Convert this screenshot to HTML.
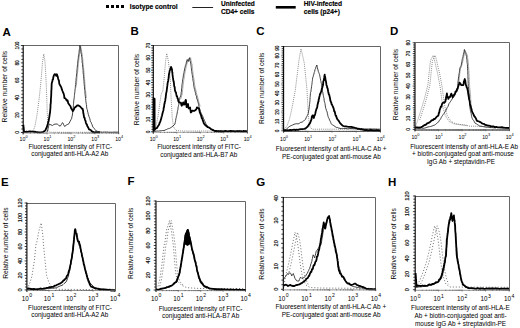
<!DOCTYPE html><html><head><meta charset="utf-8"><style>html,body{margin:0;padding:0;background:#fff;width:520px;height:328px;overflow:hidden}svg{display:block}text{font-family:"Liberation Sans",sans-serif}</style></head><body>
<svg width="520" height="328" viewBox="0 0 520 328">
<rect width="520" height="328" fill="#fff"/>
<rect x="106" y="5" width="3" height="3" fill="#000"/>
<rect x="111" y="5" width="3" height="3" fill="#000"/>
<rect x="116" y="5" width="3" height="3" fill="#000"/>
<rect x="121" y="5" width="3" height="3" fill="#000"/>
<text x="129.8" y="9.2" font-size="6.4" font-weight="700" text-anchor="start" fill="#000" textLength="47.9" lengthAdjust="spacingAndGlyphs" stroke="#000" stroke-width="0.15">Isotype control</text>
<line x1="192.3" y1="7.5" x2="213.1" y2="7.5" stroke="#222" stroke-width="1"/>
<text x="220.9" y="6.4" font-size="6.4" font-weight="700" text-anchor="start" fill="#000" textLength="33.9" lengthAdjust="spacingAndGlyphs" stroke="#000" stroke-width="0.15">Uninfected</text>
<text x="220.9" y="14.4" font-size="6.4" font-weight="700" text-anchor="start" fill="#000" textLength="33.5" lengthAdjust="spacingAndGlyphs" stroke="#000" stroke-width="0.15">CD4+ cells</text>
<rect x="275.8" y="6" width="19.9" height="2.6" fill="#000"/>
<text x="303.8" y="6.4" font-size="6.4" font-weight="700" text-anchor="start" fill="#000" textLength="38.3" lengthAdjust="spacingAndGlyphs" stroke="#000" stroke-width="0.15">HIV-infected</text>
<text x="303.8" y="14.4" font-size="6.4" font-weight="700" text-anchor="start" fill="#000" textLength="36.1" lengthAdjust="spacingAndGlyphs" stroke="#000" stroke-width="0.15">cells (p24+)</text>
<text x="2.6" y="35.5" font-size="11.5" font-weight="700" text-anchor="start" fill="#000">A</text>
<polyline points="23.5,45.5 118.5,45.5 118.5,134.0" fill="none" stroke="#666" stroke-width="1.0"/>
<polyline points="23.5,132.3 30.0,132.3 33.0,131.5 35.0,126.0 37.0,115.0 39.0,100.0 40.3,88.0 41.5,75.0 42.5,62.0 43.8,54.0 45.0,62.0 45.8,75.0 46.4,88.0 47.0,105.0 47.5,120.0 48.0,130.7 50.0,132.3 118.8,132.3" fill="none" stroke="#8a8a8a" stroke-width="1.0" stroke-dasharray="1 1.1"/>
<polyline points="76.1,87.4 76.2,86.2 76.3,85.5 76.5,84.4 76.6,82.9 76.7,81.5 76.8,79.9 76.9,78.9 77.1,77.2 77.2,76.5 77.3,75.3 77.4,73.6 77.5,72.0 77.7,71.7 77.8,70.3 77.9,69.3 78.0,67.8 78.2,66.3 78.3,65.4 78.4,63.7 78.5,62.5 78.7,61.4 78.8,59.7 79.0,58.3 79.1,57.8 79.3,56.6 79.5,54.8 79.7,53.9 79.8,52.0 80.0,50.9 80.2,50.1 80.4,48.2 80.5,46.8 80.7,46.1 80.9,47.4 81.2,48.3 81.4,49.2 81.6,51.2 81.8,52.9 82.1,53.8 82.3,54.7 82.4,56.4 82.5,57.5 82.7,59.1 82.8,59.4 82.9,61.2 83.0,62.8 83.2,64.1 83.3,64.8 83.4,66.8 83.5,67.2 83.7,68.7 83.8,70.2 83.9,71.2 84.0,72.6 84.1,73.1 84.2,74.3 84.3,76.2 84.4,76.8 84.5,78.7 84.6,79.1 84.7,81.3 84.8,81.7 84.9,83.4 85.0,84.7 85.1,85.8 85.2,86.7 85.3,88.2 85.4,89.8 85.5,90.6 85.7,92.2 85.8,92.7 85.9,93.9 86.0,95.1 86.2,96.9 86.3,98.0" fill="none" stroke="#999" stroke-width="0.85" stroke-linejoin="round"/>
<polyline points="47.0,132.3 47.4,131.0 47.8,129.8 48.1,128.3 48.5,126.9 48.9,125.3 49.2,124.0 51.0,124.9 52.6,125.5 53.8,124.5 55.0,124.1 57.2,124.0 58.7,125.3 60.2,126.2 61.5,124.3 62.5,122.6 63.1,123.3 63.7,124.8 64.8,126.6 66.3,124.9 67.8,124.4 69.0,123.6 70.1,121.3 70.9,119.8 71.7,118.3 71.9,116.9 72.1,116.3 72.4,115.0 72.6,113.1 72.8,111.9 72.9,110.4 73.0,109.6 73.1,108.5 73.3,107.0 73.4,105.3 73.5,104.5 73.6,103.3 73.7,101.2 73.9,100.1 74.0,99.1 74.2,97.9 74.3,96.8 74.4,95.6 74.6,94.1 74.7,93.1 74.9,91.7 75.0,90.0 75.2,88.8 75.3,87.7 75.4,86.6 75.5,85.1 75.7,84.6 75.8,82.4 75.9,80.9 76.0,80.6 76.1,78.5 76.3,77.4 76.4,76.3 76.5,74.9 76.6,73.8 76.8,72.7 76.9,71.0 77.0,69.4 77.1,68.8 77.2,67.5 77.4,66.0 77.5,64.5 77.6,63.5 77.8,62.0 77.9,60.8 78.0,59.8 78.2,59.0 78.3,57.4 78.5,55.9 78.7,55.0 78.9,53.8 79.0,52.8 79.2,51.0 79.4,49.2 79.6,48.8 79.7,47.5 79.9,45.4 80.1,46.9 80.4,48.7 80.6,49.5 80.8,50.6 81.0,52.7 81.3,54.1 81.5,54.4 81.6,56.7 81.8,57.3 81.9,58.5 82.0,59.4 82.1,60.7 82.2,62.9 82.4,63.3 82.5,64.7 82.6,66.1 82.8,67.7 82.9,68.9 83.0,69.8 83.1,70.7 83.2,72.9 83.3,74.0 83.4,74.3 83.5,75.8 83.6,76.7 83.7,78.5 83.8,79.8 83.9,80.2 84.0,81.4 84.1,83.6 84.2,84.2 84.3,85.1 84.4,86.2 84.5,87.8 84.6,89.5 84.8,90.3 84.9,91.3 85.0,93.3 85.1,94.5 85.2,95.2 85.4,96.7 85.5,98.1 85.7,98.7 85.8,100.6 86.0,102.2 86.2,103.1 86.3,104.4 86.5,104.8 86.6,106.9 86.8,108.2 87.1,109.4 87.4,110.2 87.7,112.0 87.9,112.4 88.2,114.2 88.5,114.7 88.9,116.4 89.3,117.2 89.8,118.6 90.2,120.5 90.6,121.8 91.1,122.3 91.6,123.8 92.0,124.5 92.5,126.1 93.0,127.2 94.0,128.2 94.9,129.4 95.9,130.7 97.3,131.3 98.6,131.5 100.0,132.0 101.3,132.1 102.5,132.2 103.8,132.1 105.0,132.1 106.3,132.1 107.5,132.0 108.8,132.3 110.0,132.2 111.3,132.3 112.5,132.3 113.8,132.1 115.0,132.1 116.3,132.2 117.5,132.1 118.8,132.3" fill="none" stroke="#222" stroke-width="0.85" stroke-linejoin="round"/>
<polyline points="23.4,124.9 23.5,126.8 23.6,128.0 23.8,129.0 23.9,130.4 24.0,131.9 25.2,131.8 26.4,131.6 27.6,131.9 28.8,131.5 30.0,131.4 31.2,131.6 32.4,131.5 33.6,131.8 34.8,131.7 36.0,132.1 37.3,132.1 38.7,132.4 40.0,132.3 41.6,132.1 43.3,131.8 45.0,130.7 45.6,130.0 46.1,128.5 46.7,127.6 47.3,125.6 47.6,124.6 47.9,123.9 48.2,121.9 48.5,121.8 48.8,120.1 49.0,118.9 49.2,117.7 49.4,116.6 49.5,115.6 49.7,114.3 49.9,113.3 50.1,111.8 50.3,109.3 50.4,108.5 50.5,107.3 50.5,105.2 50.6,104.2 50.7,103.9 50.8,102.7 50.9,100.9 50.9,99.7 51.0,98.3 51.1,96.7 51.2,96.2 51.2,94.2 51.3,93.5 51.3,91.2 51.4,90.0 51.5,89.3 51.5,88.0 51.6,86.6 51.6,85.5 51.7,83.6 52.0,82.3 52.3,81.6 52.6,79.7 53.0,79.7 53.3,77.3 53.6,76.3 53.9,75.4 54.6,74.1 55.4,74.3 55.8,75.0 56.3,75.9 56.9,74.3 57.4,75.7 57.8,76.9 58.2,79.0 58.7,80.1 59.0,80.9 59.2,83.1 59.5,84.3 60.4,85.8 61.3,87.4 61.9,89.4 62.5,91.0 63.6,93.6 63.9,94.6 64.1,95.1 64.4,98.2 65.5,98.3 66.7,100.6 67.5,100.3 67.8,101.1 68.2,103.2 69.0,104.3 69.7,105.3 70.5,106.3 71.0,108.0 71.5,108.7 72.0,109.6 72.8,111.1 73.4,110.2 74.1,109.0 74.7,107.5 75.5,107.1 76.2,106.5 77.0,105.5 78.5,105.5 80.1,106.5 81.0,107.5 82.0,108.8 82.5,108.6 83.1,110.8 83.3,113.1 83.5,113.5 83.7,114.8 84.1,117.3 84.6,117.9 85.0,119.8 85.5,120.8 85.9,122.7 86.3,123.9 86.8,124.2 87.3,126.1 87.9,127.0 88.5,128.2 89.0,129.3 90.0,129.7 91.0,130.3 91.9,131.3 92.9,132.0 94.3,132.3 95.7,132.1 97.2,132.4 98.6,132.3 100.0,132.5" fill="none" stroke="#000" stroke-width="1.8" stroke-linejoin="round"/>
<line x1="23.2" y1="45.0" x2="23.2" y2="134.3" stroke="#000" stroke-width="1.1"/>
<line x1="23.2" y1="133.1" x2="118.8" y2="133.1" stroke="#888" stroke-width="0.7"/>
<path d="M20.90 132.50H23.2M21.30 129.02H23.2M21.30 125.54H23.2M21.30 122.06H23.2M21.30 118.58H23.2M20.90 115.10H23.2M21.30 111.62H23.2M21.30 108.14H23.2M21.30 104.66H23.2M21.30 101.18H23.2M20.90 97.70H23.2M21.30 94.22H23.2M21.30 90.74H23.2M21.30 87.26H23.2M21.30 83.78H23.2M20.90 80.30H23.2M21.30 76.82H23.2M21.30 73.34H23.2M21.30 69.86H23.2M21.30 66.38H23.2M20.90 62.90H23.2M21.30 59.42H23.2M21.30 55.94H23.2M21.30 52.46H23.2M21.30 48.98H23.2M20.90 45.50H23.2" stroke="#000" stroke-width="0.75" fill="none"/>
<text transform="translate(18.5,132.5) rotate(-90)" font-size="4.8" font-weight="400" text-anchor="middle" fill="#000" stroke="#000" stroke-width="0.15">0</text>
<text transform="translate(18.5,115.1) rotate(-90)" font-size="4.8" font-weight="400" text-anchor="middle" fill="#000" stroke="#000" stroke-width="0.15">20</text>
<text transform="translate(18.5,97.7) rotate(-90)" font-size="4.8" font-weight="400" text-anchor="middle" fill="#000" stroke="#000" stroke-width="0.15">40</text>
<text transform="translate(18.5,80.3) rotate(-90)" font-size="4.8" font-weight="400" text-anchor="middle" fill="#000" stroke="#000" stroke-width="0.15">60</text>
<text transform="translate(18.5,62.9) rotate(-90)" font-size="4.8" font-weight="400" text-anchor="middle" fill="#000" stroke="#000" stroke-width="0.15">80</text>
<text transform="translate(18.5,45.5) rotate(-90)" font-size="4.8" font-weight="400" text-anchor="middle" fill="#000" stroke="#000" stroke-width="0.15">100</text>
<text transform="translate(7.25,86.7) rotate(-90)" font-size="6.7" font-weight="400" text-anchor="middle" fill="#000">Relative number of cells</text>
<path d="M23.20 132.5V134.3M30.39 132.5V133.6M34.60 132.5V133.6M37.59 132.5V133.6M39.91 132.5V133.6M41.80 132.5V133.6M43.40 132.5V133.6M44.78 132.5V133.6M46.01 132.5V133.6M47.10 132.5V134.3M54.29 132.5V133.6M58.50 132.5V133.6M61.49 132.5V133.6M63.81 132.5V133.6M65.70 132.5V133.6M67.30 132.5V133.6M68.68 132.5V133.6M69.91 132.5V133.6M71.00 132.5V134.3M78.19 132.5V133.6M82.40 132.5V133.6M85.39 132.5V133.6M87.71 132.5V133.6M89.60 132.5V133.6M91.20 132.5V133.6M92.58 132.5V133.6M93.81 132.5V133.6M94.90 132.5V134.3M102.09 132.5V133.6M106.30 132.5V133.6M109.29 132.5V133.6M111.61 132.5V133.6M113.50 132.5V133.6M115.10 132.5V133.6M116.48 132.5V133.6M117.71 132.5V133.6M118.8 132.5V134.3" stroke="#444" stroke-width="0.6" fill="none"/>
<text x="23.60" y="141.4" font-size="5.2" text-anchor="middle">10<tspan dx="0" dy="-3.0" font-size="3.9">0</tspan></text>
<text x="47.50" y="141.4" font-size="5.2" text-anchor="middle">10<tspan dx="0" dy="-3.0" font-size="3.9">1</tspan></text>
<text x="71.40" y="141.4" font-size="5.2" text-anchor="middle">10<tspan dx="0" dy="-3.0" font-size="3.9">2</tspan></text>
<text x="95.30" y="141.4" font-size="5.2" text-anchor="middle">10<tspan dx="0" dy="-3.0" font-size="3.9">3</tspan></text>
<text x="119.20" y="141.4" font-size="5.2" text-anchor="middle">10<tspan dx="0" dy="-3.0" font-size="3.9">4</tspan></text>
<text x="28.4" y="148.7" font-size="6.4" font-weight="400" text-anchor="start" fill="#000">Fluorescent intensity of FITC-</text>
<text x="31.25" y="156.3" font-size="6.4" font-weight="400" text-anchor="start" fill="#000">conjugated anti-HLA-A2 Ab</text>
<text x="130.4" y="35.3" font-size="11.5" font-weight="700" text-anchor="start" fill="#000">B</text>
<polyline points="153.5,45.5 247.5,45.5 247.5,133.3" fill="none" stroke="#666" stroke-width="1.0"/>
<polyline points="153.5,131.0 155.0,129.5 156.4,124.2 157.8,117.4 159.2,107.8 161.2,94.1 162.9,90.7 164.4,75.5 165.5,62.0 166.7,53.4 168.2,60.2 169.5,70.0 170.5,83.0 170.8,92.7 171.5,103.7 172.2,117.4 173.5,127.0 176.0,130.3 180.0,131.0 247.0,131.0" fill="none" stroke="#8a8a8a" stroke-width="1.0" stroke-dasharray="1 1.1"/>
<polyline points="180.9,98.8 181.3,97.2 181.8,95.4 182.2,93.9 182.3,92.0 182.5,91.9 182.6,89.7 182.7,89.1 182.9,87.6 183.0,85.9 183.1,85.2 183.3,83.9 183.4,82.9 183.6,81.9 183.7,80.6 183.9,79.0 184.2,77.8 184.4,76.7 184.6,75.4 184.8,73.4 185.1,71.8 185.3,71.3 185.6,69.7 185.9,68.4 186.2,66.7 186.5,66.4 186.8,64.5 187.2,63.0 187.5,61.9 187.9,60.3 188.3,58.9 189.4,60.4 190.0,59.5 190.6,57.7 190.9,59.9 191.2,60.9 191.5,61.5 191.8,63.9 192.1,64.2 192.2,66.1 192.4,67.2 192.5,68.1 192.6,69.4 192.8,71.6 192.9,73.0 193.1,74.1 193.3,74.9 193.5,75.8 193.7,77.9 193.9,79.0 194.1,79.8 194.3,81.6 194.5,82.3 194.6,84.4 194.8,85.4 195.0,87.0 195.2,88.0 195.5,88.9 195.8,90.1 196.1,91.1 196.4,92.5 196.7,94.3 197.0,94.7 197.4,95.8 197.7,97.5 198.0,98.5 198.4,99.7 198.7,101.5 199.0,102.7 199.4,103.9 199.8,105.1 200.1,106.4" fill="none" stroke="#999" stroke-width="0.85" stroke-linejoin="round"/>
<polyline points="153.5,131.3 154.8,131.3 156.0,131.2 157.2,131.0 158.5,131.1 159.9,130.8 161.2,130.8 162.6,130.5 164.0,130.6 165.1,130.0 166.3,129.6 167.4,129.0 168.5,128.6 169.7,128.3 170.8,127.6 171.8,127.0 172.9,126.2 173.9,125.0 174.9,124.3 175.2,122.6 175.4,121.8 175.7,120.3 175.9,118.5 176.2,117.8 176.4,116.2 176.7,115.6 176.9,114.2 177.2,113.0 177.4,111.5 177.7,110.2 177.9,109.5 178.1,107.5 178.3,106.6 178.5,105.6 178.8,104.8 179.0,102.6 179.2,101.4 179.4,100.5 179.6,99.9 179.8,97.7 180.2,97.1 180.7,95.8 181.1,94.0 181.2,92.4 181.4,91.9 181.5,90.0 181.6,88.3 181.8,87.9 181.9,85.9 182.0,84.5 182.2,83.7 182.3,82.8 182.5,81.8 182.6,79.7 182.8,78.7 183.1,78.1 183.3,76.0 183.5,74.3 183.7,74.1 184.0,72.4 184.2,71.2 184.5,70.0 184.8,68.0 185.1,67.3 185.4,65.5 185.7,65.0 186.1,64.0 186.4,62.0 186.8,60.9 187.2,59.6 188.3,61.5 188.9,59.3 189.5,57.7 189.8,59.1 190.1,60.9 190.4,62.0 190.7,63.1 191.0,65.2 191.1,66.4 191.3,67.5 191.4,68.2 191.5,70.2 191.7,71.4 191.8,72.0 192.0,73.4 192.2,74.6 192.4,75.7 192.6,77.5 192.8,78.3 193.0,80.6 193.2,81.3 193.4,82.4 193.6,83.6 193.7,85.3 193.9,86.7 194.1,87.5 194.4,88.9 194.7,89.6 195.0,91.3 195.3,92.1 195.6,93.4 195.9,95.2 196.3,95.8 196.6,96.9 196.9,99.2 197.3,99.3 197.6,100.9 197.9,101.8 198.3,103.2 198.7,104.7 199.0,106.7 199.4,108.2 199.8,109.0 200.1,110.3 200.5,111.6 201.2,113.5 201.8,114.6 202.5,115.9 203.0,117.0 203.5,118.6 204.0,119.3 204.5,120.6 205.0,121.6 205.8,123.6 206.5,124.6 207.2,125.8 208.0,126.7 209.0,127.7 210.0,128.6 211.0,129.1 212.0,130.1 213.5,130.4 215.0,130.9 216.2,130.9 217.5,131.1 218.7,131.1 219.9,130.9 221.2,131.0 222.4,131.2 223.6,131.0 224.8,130.9 226.1,131.1 227.3,131.3 228.5,131.0 229.8,131.2 231.0,131.1 232.2,131.3 233.5,131.3 234.7,131.2 235.9,131.2 237.2,131.2 238.4,131.3 239.6,131.3 240.8,131.4 242.1,131.4 243.3,131.3 244.5,131.4 245.8,131.3 247.0,131.3" fill="none" stroke="#222" stroke-width="0.85" stroke-linejoin="round"/>
<polyline points="153.6,131.4 153.6,130.2 153.6,129.1 153.6,128.3 153.6,126.8 153.6,125.4 153.6,124.1 153.6,123.1 153.6,122.4 153.6,120.7 153.6,120.0 153.6,118.3 153.6,117.6 153.6,116.5 153.6,115.0 153.6,113.1 153.6,112.5 153.6,111.5 153.6,109.2 153.6,108.8 153.6,107.6 153.6,105.8 153.6,105.6 153.6,103.6 153.6,102.8 153.6,101.8 153.6,99.6 153.6,98.3 154.6,98.8 154.6,100.0 154.6,101.1 154.6,102.6 154.6,103.1 154.6,104.4 154.6,107.2 154.6,107.6 154.6,108.6 154.6,109.8 154.6,111.3 154.6,113.4 154.6,113.8 154.6,115.8 154.6,116.0 154.6,117.1 154.6,118.8 154.6,119.5 154.6,120.7 154.6,122.1 154.6,123.4 154.6,124.8 154.6,125.6 154.6,127.1 154.6,128.4 154.6,129.9 155.8,128.5 157.1,127.9 157.8,126.4 158.5,125.5 159.2,124.5 159.7,122.5 160.2,122.1 160.7,120.1 161.2,118.8 161.5,117.1 161.8,116.2 162.1,115.2 162.4,113.8 162.7,112.7 163.0,111.5 163.3,110.7 163.5,110.0 163.7,107.6 164.0,107.2 164.2,105.3 164.4,103.7 164.6,103.5 164.9,101.5 165.1,101.3 165.3,100.4 165.5,98.2 165.7,98.0 165.8,96.1 166.0,94.8 166.2,92.9 166.3,92.9 166.5,91.9 166.7,90.8 166.9,89.0 167.1,87.3 167.3,85.8 167.4,85.4 167.6,83.2 167.8,82.3 168.0,81.6 168.2,80.9 168.3,79.3 168.5,78.7 168.7,76.9 168.8,76.0 169.0,73.9 169.3,73.2 169.6,70.9 169.9,70.4 170.2,69.4 171.0,66.9 172.0,69.4 172.1,70.7 172.2,72.3 172.4,72.3 172.5,74.4 172.7,75.9 172.9,77.4 173.1,78.4 173.2,79.9 173.4,80.4 173.6,81.6 173.8,82.3 174.0,83.7 174.2,86.3 174.5,86.5 174.7,87.5 174.9,90.2 175.1,90.7 175.5,92.0 175.9,92.3 176.3,94.4 176.7,96.2 177.1,96.4 177.5,98.3 177.9,98.7 178.3,101.2 178.7,101.6 179.1,102.3 180.5,102.6 180.9,102.7 181.4,105.1 181.8,105.8 182.5,103.7 183.2,102.4 183.9,104.7 184.6,104.4 184.9,103.5 185.1,101.9 185.4,100.7 185.7,99.9 185.9,100.1 186.1,101.7 186.2,103.7 186.4,105.3 186.6,107.2 187.3,104.4 188.0,104.0 188.2,105.1 188.3,107.0 188.5,107.9 188.7,108.4 190.1,107.4 190.3,109.7 190.4,109.6 190.6,110.9 190.8,112.5 191.4,112.1 192.1,110.7 194.2,110.9 196.2,109.5 196.9,107.5 197.6,107.6 199.0,108.8 199.3,110.1 199.7,111.9 200.0,113.0 200.3,113.2 200.8,114.9 201.2,115.7 201.7,118.1 202.2,118.2 202.8,120.4 203.3,121.7 203.8,123.2 204.7,124.5 205.6,125.4 206.5,126.0 207.6,127.1 208.8,127.4 209.9,128.1 211.3,129.2 212.7,129.9 213.7,130.4 214.7,131.0 215.9,130.9 217.2,131.1 218.4,131.2 219.7,131.3 220.9,131.1 222.2,131.3 223.4,131.3 224.6,131.2 225.9,131.0 227.1,131.4 228.4,131.3 229.6,131.1 230.8,131.0 232.1,131.2 233.3,131.2 234.6,131.3 235.8,131.3 237.1,131.2 238.3,131.2 239.5,131.2 240.8,131.1 242.0,131.5 243.3,131.0 244.5,131.2 245.8,131.1 247.0,131.3" fill="none" stroke="#000" stroke-width="1.8" stroke-linejoin="round"/>
<line x1="153.3" y1="45.0" x2="153.3" y2="133.60000000000002" stroke="#000" stroke-width="1.1"/>
<line x1="153.3" y1="132.4" x2="247.3" y2="132.4" stroke="#888" stroke-width="0.7"/>
<path d="M151.00 131.80H153.3M151.40 129.33H153.3M151.40 126.87H153.3M151.40 124.40H153.3M151.40 121.94H153.3M151.00 119.47H153.3M151.40 117.01H153.3M151.40 114.54H153.3M151.40 112.07H153.3M151.40 109.61H153.3M151.00 107.14H153.3M151.40 104.68H153.3M151.40 102.21H153.3M151.40 99.75H153.3M151.40 97.28H153.3M151.00 94.81H153.3M151.40 92.35H153.3M151.40 89.88H153.3M151.40 87.42H153.3M151.40 84.95H153.3M151.00 82.49H153.3M151.40 80.02H153.3M151.40 77.55H153.3M151.40 75.09H153.3M151.40 72.62H153.3M151.00 70.16H153.3M151.40 67.69H153.3M151.40 65.23H153.3M151.40 62.76H153.3M151.40 60.29H153.3M151.00 57.83H153.3M151.40 55.36H153.3M151.40 52.90H153.3M151.40 50.43H153.3M151.40 47.97H153.3M151.00 45.50H153.3" stroke="#000" stroke-width="0.75" fill="none"/>
<text transform="translate(149.5,131.8) rotate(-90)" font-size="4.8" font-weight="400" text-anchor="middle" fill="#000" stroke="#000" stroke-width="0.15">0</text>
<text transform="translate(149.5,119.47) rotate(-90)" font-size="4.8" font-weight="400" text-anchor="middle" fill="#000" stroke="#000" stroke-width="0.15">10</text>
<text transform="translate(149.5,107.14) rotate(-90)" font-size="4.8" font-weight="400" text-anchor="middle" fill="#000" stroke="#000" stroke-width="0.15">20</text>
<text transform="translate(149.5,94.81) rotate(-90)" font-size="4.8" font-weight="400" text-anchor="middle" fill="#000" stroke="#000" stroke-width="0.15">30</text>
<text transform="translate(149.5,82.49) rotate(-90)" font-size="4.8" font-weight="400" text-anchor="middle" fill="#000" stroke="#000" stroke-width="0.15">40</text>
<text transform="translate(149.5,70.16) rotate(-90)" font-size="4.8" font-weight="400" text-anchor="middle" fill="#000" stroke="#000" stroke-width="0.15">50</text>
<text transform="translate(149.5,57.83) rotate(-90)" font-size="4.8" font-weight="400" text-anchor="middle" fill="#000" stroke="#000" stroke-width="0.15">60</text>
<text transform="translate(149.5,45.5) rotate(-90)" font-size="4.8" font-weight="400" text-anchor="middle" fill="#000" stroke="#000" stroke-width="0.15">70</text>
<text transform="translate(138.6,89.6) rotate(-90)" font-size="6.7" font-weight="400" text-anchor="middle" fill="#000">Relative number of cells</text>
<path d="M153.30 131.8V133.60000000000002M160.37 131.8V132.9M164.51 131.8V132.9M167.45 131.8V132.9M169.73 131.8V132.9M171.59 131.8V132.9M173.16 131.8V132.9M174.52 131.8V132.9M175.72 131.8V132.9M176.80 131.8V133.60000000000002M183.87 131.8V132.9M188.01 131.8V132.9M190.95 131.8V132.9M193.23 131.8V132.9M195.09 131.8V132.9M196.66 131.8V132.9M198.02 131.8V132.9M199.22 131.8V132.9M200.30 131.8V133.60000000000002M207.37 131.8V132.9M211.51 131.8V132.9M214.45 131.8V132.9M216.73 131.8V132.9M218.59 131.8V132.9M220.16 131.8V132.9M221.52 131.8V132.9M222.72 131.8V132.9M223.80 131.8V133.60000000000002M230.87 131.8V132.9M235.01 131.8V132.9M237.95 131.8V132.9M240.23 131.8V132.9M242.09 131.8V132.9M243.66 131.8V132.9M245.02 131.8V132.9M246.22 131.8V132.9M247.3 131.8V133.60000000000002" stroke="#444" stroke-width="0.6" fill="none"/>
<text x="153.70" y="141.2" font-size="5.2" text-anchor="middle">10<tspan dx="0" dy="-3.0" font-size="3.9">0</tspan></text>
<text x="177.20" y="141.2" font-size="5.2" text-anchor="middle">10<tspan dx="0" dy="-3.0" font-size="3.9">1</tspan></text>
<text x="200.70" y="141.2" font-size="5.2" text-anchor="middle">10<tspan dx="0" dy="-3.0" font-size="3.9">2</tspan></text>
<text x="224.20" y="141.2" font-size="5.2" text-anchor="middle">10<tspan dx="0" dy="-3.0" font-size="3.9">3</tspan></text>
<text x="247.70" y="141.2" font-size="5.2" text-anchor="middle">10<tspan dx="0" dy="-3.0" font-size="3.9">4</tspan></text>
<text x="157.2" y="149.3" font-size="6.4" font-weight="400" text-anchor="start" fill="#000">Fluorescent intensity of FITC-</text>
<text x="160.2" y="156.5" font-size="6.4" font-weight="400" text-anchor="start" fill="#000">conjugated anti-HLA-B7 Ab</text>
<text x="256.3" y="35.3" font-size="11.5" font-weight="700" text-anchor="start" fill="#000">C</text>
<polyline points="283.5,46.5 380.5,46.5 380.5,132.3" fill="none" stroke="#666" stroke-width="1.0"/>
<polyline points="283.8,129.5 285.1,128.4 287.1,125.6 289.2,120.1 291.2,111.9 293.3,101.0 295.3,90.0 297.5,72.4 299.0,60.0 301.0,48.8 302.5,55.0 304.3,63.3 305.5,75.0 306.5,85.0 307.0,90.0 307.7,103.7 308.3,114.7 309.0,121.5 310.0,127.0 312.0,129.2 380.4,129.2" fill="none" stroke="#8a8a8a" stroke-width="1.0" stroke-dasharray="1 1.1"/>
<polyline points="283.8,130.1 285.7,129.8 286.7,128.7 287.8,127.9 288.8,127.0 289.8,126.3 291.2,125.6 292.6,125.0 294.0,124.3 295.4,123.9 296.7,123.7 298.1,123.9 299.5,123.2 300.8,122.3 302.2,122.1 303.3,121.1 304.5,120.3 305.6,119.3 306.1,117.8 306.7,116.7 307.2,115.8 307.8,114.5 308.3,113.2 308.5,112.1 308.6,111.0 308.8,110.0 309.0,109.1 309.2,106.9 309.4,106.2 309.5,104.5 309.7,103.2 309.8,102.1 309.9,101.1 310.0,100.3 310.0,99.4 310.1,97.6 310.2,96.7 310.3,95.1 310.4,93.8 310.6,92.4 310.9,91.8 311.1,89.7 311.3,88.9 311.4,88.1 311.6,86.3 311.7,85.4 311.9,84.4 312.1,82.6 312.2,81.5 312.4,80.7 312.5,79.3 312.7,77.8 313.1,76.8 313.5,75.2 313.9,74.1 314.2,72.6 314.6,71.7 315.0,69.6 315.5,68.8 315.9,67.1 316.4,66.1 316.9,65.0 317.2,66.8 317.4,67.8 317.7,69.0 318.0,69.9 318.4,71.8 318.8,72.6 319.2,73.7 319.6,74.7 319.9,76.3 320.2,78.0 320.4,78.7 320.7,80.6 321.0,81.7 321.2,83.0 321.4,83.5 321.6,84.5 321.8,86.0 322.0,87.0 322.2,88.6 322.4,90.6 322.6,91.8 322.8,92.1 323.0,94.0 323.3,95.3 323.5,96.3 323.8,97.8 324.0,98.4 324.2,100.7 324.5,102.0 324.7,102.4 325.0,103.6 325.2,105.1 325.5,107.1 325.7,108.3 326.1,109.0 326.4,110.4 326.8,111.0 327.1,112.0 327.4,113.4 327.8,115.3 328.1,116.6 328.5,117.7 329.1,118.7 329.6,120.2 330.2,121.2 330.7,122.4 331.3,123.8 332.6,125.1 333.8,125.6 335.1,126.6 336.3,127.4 337.6,127.5 338.8,128.1 340.0,128.3 341.2,128.7 342.4,128.4 343.7,128.5 344.9,128.5 346.1,128.4 347.3,128.8 348.6,128.6 349.8,128.5 351.0,128.5 352.2,128.6 353.5,128.6 354.7,128.7 355.9,128.7 357.1,128.8 358.4,129.0 359.6,128.7 360.8,128.7 362.0,128.9 363.3,128.8 364.5,128.9 365.7,129.0 366.9,129.0 368.2,129.1 369.4,128.9 370.6,128.8 371.8,129.1 373.1,129.1 374.3,129.0 375.5,129.1 376.7,129.1 378.0,129.3 379.2,129.2 380.4,129.2" fill="none" stroke="#222" stroke-width="0.85" stroke-linejoin="round"/>
<polyline points="283.8,130.6 285.1,130.1 286.4,130.4 287.7,130.2 289.0,130.3 290.2,129.8 291.5,130.2 292.8,129.8 294.1,129.7 295.4,130.0 296.7,129.7 298.1,129.8 299.4,129.3 300.8,129.2 302.2,129.2 303.9,128.9 305.6,128.5 306.6,127.4 307.7,126.6 308.7,124.9 309.7,123.6 310.2,122.7 310.6,121.6 311.1,120.3 311.5,119.4 311.8,116.8 312.1,116.6 312.5,115.3 313.1,115.4 313.8,118.0 314.3,116.1 314.7,115.5 315.2,114.0 315.7,111.5 316.1,110.2 316.6,108.5 316.9,108.2 317.2,107.3 317.6,104.3 317.9,103.6 318.2,101.8 318.5,101.6 318.7,99.3 319.0,98.9 319.3,97.0 319.6,96.0 320.0,93.8 320.4,93.9 320.7,92.6 321.3,91.4 321.8,88.8 322.4,87.3 322.6,86.3 322.9,85.5 323.1,84.2 323.3,81.6 323.5,80.9 323.8,80.4 324.0,79.0 324.2,77.9 324.5,75.3 324.7,74.7 324.9,76.0 325.2,77.3 325.4,78.6 325.6,80.4 325.9,81.1 326.1,82.2 326.4,84.7 326.6,85.5 326.9,85.8 327.2,87.8 327.6,88.2 327.9,89.8 328.2,91.7 328.5,93.1 328.8,94.2 329.1,94.6 329.4,95.6 329.8,97.2 330.1,99.0 330.4,100.6 330.8,101.9 331.2,102.2 331.5,104.2 331.9,104.3 332.3,105.3 332.8,106.4 333.2,107.4 333.7,108.6 334.2,111.3 334.6,111.2 335.0,112.7 335.3,114.2 335.7,115.8 336.1,115.6 336.7,117.9 337.4,119.3 338.0,120.0 338.9,121.1 339.9,122.9 340.8,123.8 342.1,125.2 343.3,126.0 344.6,126.4 346.0,126.4 347.4,126.7 348.8,126.8 350.2,126.8 351.5,126.9 352.7,127.4 354.0,127.5 355.3,127.9 356.5,128.2 357.8,128.9 359.0,128.7 360.2,129.3 361.4,129.1 362.6,129.7 363.8,129.9 365.0,130.2 366.3,129.9 367.6,130.3 368.9,130.3 370.1,130.0 371.4,130.0 372.7,130.4 374.0,130.4 375.3,130.4 376.5,130.2 377.8,130.3 379.1,130.6 380.4,130.4" fill="none" stroke="#000" stroke-width="1.8" stroke-linejoin="round"/>
<line x1="283.6" y1="46.0" x2="283.6" y2="132.60000000000002" stroke="#000" stroke-width="1.1"/>
<line x1="283.6" y1="131.4" x2="380.4" y2="131.4" stroke="#222" stroke-width="0.8"/>
<path d="M281.30 130.80H283.6M281.70 128.93H283.6M281.70 127.05H283.6M281.70 125.18H283.6M281.70 123.31H283.6M281.30 121.43H283.6M281.70 119.56H283.6M281.70 117.69H283.6M281.70 115.81H283.6M281.70 113.94H283.6M281.30 112.07H283.6M281.70 110.19H283.6M281.70 108.32H283.6M281.70 106.45H283.6M281.70 104.57H283.6M281.30 102.70H283.6M281.70 100.83H283.6M281.70 98.95H283.6M281.70 97.08H283.6M281.70 95.21H283.6M281.30 93.33H283.6M281.70 91.46H283.6M281.70 89.59H283.6M281.70 87.71H283.6M281.70 85.84H283.6M281.30 83.97H283.6M281.70 82.09H283.6M281.70 80.22H283.6M281.70 78.35H283.6M281.70 76.47H283.6M281.30 74.60H283.6M281.70 72.73H283.6M281.70 70.85H283.6M281.70 68.98H283.6M281.70 67.11H283.6M281.30 65.23H283.6M281.70 63.36H283.6M281.70 61.49H283.6M281.70 59.61H283.6M281.70 57.74H283.6M281.30 55.87H283.6M281.70 53.99H283.6M281.70 52.12H283.6M281.70 50.25H283.6M281.70 48.37H283.6M281.30 46.50H283.6" stroke="#000" stroke-width="0.75" fill="none"/>
<text transform="translate(278.9,130.8) rotate(-90)" font-size="4.8" font-weight="400" text-anchor="middle" fill="#000" stroke="#000" stroke-width="0.15">0</text>
<text transform="translate(278.9,121.43) rotate(-90)" font-size="4.8" font-weight="400" text-anchor="middle" fill="#000" stroke="#000" stroke-width="0.15">10</text>
<text transform="translate(278.9,112.07) rotate(-90)" font-size="4.8" font-weight="400" text-anchor="middle" fill="#000" stroke="#000" stroke-width="0.15">20</text>
<text transform="translate(278.9,102.7) rotate(-90)" font-size="4.8" font-weight="400" text-anchor="middle" fill="#000" stroke="#000" stroke-width="0.15">30</text>
<text transform="translate(278.9,93.33) rotate(-90)" font-size="4.8" font-weight="400" text-anchor="middle" fill="#000" stroke="#000" stroke-width="0.15">40</text>
<text transform="translate(278.9,83.97) rotate(-90)" font-size="4.8" font-weight="400" text-anchor="middle" fill="#000" stroke="#000" stroke-width="0.15">50</text>
<text transform="translate(278.9,74.6) rotate(-90)" font-size="4.8" font-weight="400" text-anchor="middle" fill="#000" stroke="#000" stroke-width="0.15">60</text>
<text transform="translate(278.9,65.23) rotate(-90)" font-size="4.8" font-weight="400" text-anchor="middle" fill="#000" stroke="#000" stroke-width="0.15">70</text>
<text transform="translate(278.9,55.87) rotate(-90)" font-size="4.8" font-weight="400" text-anchor="middle" fill="#000" stroke="#000" stroke-width="0.15">80</text>
<text transform="translate(278.9,48.2) rotate(-90)" font-size="4.8" font-weight="400" text-anchor="middle" fill="#000" stroke="#000" stroke-width="0.15">90</text>
<text transform="translate(264.0,88.4) rotate(-90)" font-size="6.7" font-weight="400" text-anchor="middle" fill="#000">Relative number of cells</text>
<path d="M283.60 130.8V132.60000000000002M290.88 130.8V131.9M295.15 130.8V131.9M298.17 130.8V131.9M300.52 130.8V131.9M302.43 130.8V131.9M304.05 130.8V131.9M305.45 130.8V131.9M306.69 130.8V131.9M307.80 130.8V132.60000000000002M315.08 130.8V131.9M319.35 130.8V131.9M322.37 130.8V131.9M324.72 130.8V131.9M326.63 130.8V131.9M328.25 130.8V131.9M329.65 130.8V131.9M330.89 130.8V131.9M332.00 130.8V132.60000000000002M339.28 130.8V131.9M343.55 130.8V131.9M346.57 130.8V131.9M348.92 130.8V131.9M350.83 130.8V131.9M352.45 130.8V131.9M353.85 130.8V131.9M355.09 130.8V131.9M356.20 130.8V132.60000000000002M363.48 130.8V131.9M367.75 130.8V131.9M370.77 130.8V131.9M373.12 130.8V131.9M375.03 130.8V131.9M376.65 130.8V131.9M378.05 130.8V131.9M379.29 130.8V131.9M380.4 130.8V132.60000000000002" stroke="#444" stroke-width="0.6" fill="none"/>
<text x="284.00" y="141.2" font-size="5.2" text-anchor="middle">10<tspan dx="0" dy="-3.0" font-size="3.9">0</tspan></text>
<text x="308.20" y="141.2" font-size="5.2" text-anchor="middle">10<tspan dx="0" dy="-3.0" font-size="3.9">1</tspan></text>
<text x="332.40" y="141.2" font-size="5.2" text-anchor="middle">10<tspan dx="0" dy="-3.0" font-size="3.9">2</tspan></text>
<text x="356.60" y="141.2" font-size="5.2" text-anchor="middle">10<tspan dx="0" dy="-3.0" font-size="3.9">3</tspan></text>
<text x="380.80" y="141.2" font-size="5.2" text-anchor="middle">10<tspan dx="0" dy="-3.0" font-size="3.9">4</tspan></text>
<text x="275.8" y="151" font-size="6.4" font-weight="400" text-anchor="start" fill="#000">Fluoresent intensity of anti-HLA-C Ab +</text>
<text x="282.1" y="158.5" font-size="6.4" font-weight="400" text-anchor="start" fill="#000">PE-conjugated goat anti-mouse Ab</text>
<text x="390" y="35.3" font-size="11.5" font-weight="700" text-anchor="start" fill="#000">D</text>
<polyline points="415.5,42.5 509.5,42.5 509.5,130.9" fill="none" stroke="#666" stroke-width="1.0"/>
<polyline points="415.3,127.5 417.7,120.1 420.6,111.3 424.2,99.6 427.9,85.0 429.2,72.0 430.5,60.5 433.1,55.4 434.5,60.0 435.7,65.7 437.6,73.5 439.6,83.9 440.3,88.0 441.8,99.6 443.2,108.4 445.4,115.7 449.1,121.5 453.5,123.7 457.9,124.5 465.0,125.3 470.0,126.2 480.0,126.2 490.0,127.3 509.0,127.8" fill="none" stroke="#8a8a8a" stroke-width="1.0" stroke-dasharray="1 1.1"/>
<polyline points="419.7,120.1 422.6,111.3 426.2,99.6 429.9,85.0 431.2,72.0 432.5,60.5 435.1,55.4 436.5,60.0 437.7,65.7 439.6,73.5 441.6,83.9 442.3,88.0 443.8,99.6 445.2,108.4 447.4,115.7 451.1,121.5 455.5,123.7 459.9,124.5 467.0,125.3" fill="none" stroke="#8a8a8a" stroke-width="1.0" stroke-dasharray="1 1.1"/>
<polyline points="458.6,85.3 458.7,83.2 458.8,82.8 459.0,80.6 459.1,80.5 459.2,79.1 459.3,77.7 459.5,75.8 459.6,75.4 459.8,73.1 460.0,71.8 460.2,70.7 460.3,69.8 460.5,68.1 461.0,67.6 461.5,66.2 462.0,64.5 462.2,63.5 462.5,63.0 462.8,61.1 463.0,60.7 463.2,59.7 463.5,58.4 463.8,56.2 464.1,55.4 464.4,54.6 464.7,53.2 465.0,51.8 465.3,50.7 465.7,51.8 466.2,52.4 466.6,53.8 467.1,54.6 467.5,55.7 467.6,57.7 467.8,58.7 467.9,60.3 468.1,60.9 468.2,62.8 468.4,63.9 468.5,65.4 468.6,66.6 468.6,68.0 468.7,69.1 468.8,70.4 468.9,70.6 468.9,72.7 469.0,73.7 469.1,75.1 469.1,76.5 469.2,77.4 469.3,79.1 469.3,79.5 469.4,81.6 469.4,82.8 469.5,84.0 469.5,84.8 469.6,85.7 469.7,87.9 469.9,89.0 470.0,90.5 470.1,90.9 470.2,93.0 470.4,93.3 470.5,94.5 470.6,96.9 470.6,98.0 470.7,99.3 470.8,100.4 470.9,101.1 470.9,103.1 471.0,104.3 471.1,105.2 471.1,106.6 471.2,108.0" fill="none" stroke="#999" stroke-width="0.85" stroke-linejoin="round"/>
<polyline points="415.3,128.4 416.6,128.3 417.8,128.3 419.1,128.2 420.4,128.3 421.7,128.0 422.9,128.3 424.2,128.2 425.5,127.8 426.8,127.4 428.1,126.9 429.4,126.7 430.6,126.5 431.9,126.1 433.2,125.5 434.5,125.1 435.6,124.4 436.7,123.4 437.8,122.4 438.9,121.6 439.5,120.2 440.1,119.6 440.7,118.7 441.4,117.2 442.0,116.3 442.6,115.4 443.2,114.5 443.9,113.7 444.7,112.4 445.4,111.3 446.0,110.2 446.6,108.9 447.2,107.6 447.9,106.7 448.5,105.0 449.1,103.4 449.8,102.5 450.6,101.4 451.3,100.3 452.0,99.2 452.7,98.0 453.5,96.8 454.2,96.4 455.0,94.9 455.7,93.2 456.2,92.4 456.8,91.6 457.3,90.0 457.9,89.9 457.8,88.5 457.8,86.6 457.8,85.2 457.7,84.9 457.9,83.3 458.1,81.2 458.2,80.1 458.4,78.9 458.6,76.9 458.8,76.2 458.9,74.8 459.1,73.6 459.3,72.7 459.5,71.2 459.6,70.3 459.8,68.6 460.3,67.0 460.7,66.5 461.2,65.4 461.4,64.1 461.7,63.0 461.9,61.3 462.2,59.7 462.4,58.5 462.7,57.5 463.0,56.5 463.3,54.8 463.5,54.1 463.8,52.8 464.1,51.3 464.4,49.5 464.8,50.8 465.2,52.9 465.7,53.4 466.1,55.0 466.5,56.4 466.6,57.7 466.8,59.2 466.9,59.5 467.0,61.8 467.1,62.5 467.3,63.7 467.4,64.5 467.5,66.2 467.5,68.1 467.6,68.2 467.6,70.2 467.7,70.8 467.8,71.8 467.8,74.3 467.9,75.3 467.9,76.4 468.0,78.0 468.0,79.1 468.1,80.4 468.1,80.9 468.2,83.0 468.2,83.5 468.3,85.1 468.3,86.7 468.4,87.0 468.6,88.5 468.7,89.6 468.8,91.0 468.9,92.4 469.1,93.9 469.2,95.1 469.3,96.6 469.3,97.8 469.4,98.7 469.5,99.9 469.5,102.1 469.6,102.5 469.7,104.1 469.8,105.1 469.8,106.6 469.9,107.7 470.2,108.9 470.4,110.8 470.7,111.0 470.9,112.9 471.2,113.4 471.4,115.3 471.7,116.7 471.9,117.6 472.2,118.3 472.9,119.7 473.7,120.6 474.4,121.9 475.2,123.3 476.4,123.8 477.5,124.5 478.6,125.3 479.8,126.2 481.1,126.2 482.4,126.5 483.6,126.7 484.9,126.9 486.2,127.1 487.4,127.2 488.7,127.2 490.0,127.5 491.3,127.6 492.5,127.6 493.8,127.8 495.1,127.8 496.3,127.5 497.6,127.5 498.9,127.6 500.1,127.7 501.4,127.9 502.7,127.9 503.9,128.0 505.2,127.8 506.5,128.0 507.7,127.8 509.0,128.0" fill="none" stroke="#222" stroke-width="0.85" stroke-linejoin="round"/>
<polyline points="415.2,127.5 416.4,127.3 417.6,127.4 418.9,127.6 420.1,127.5 421.3,127.2 422.4,126.5 423.5,125.7 424.6,125.0 425.7,124.8 426.8,123.6 427.9,123.1 429.0,122.7 430.1,122.0 431.6,120.3 433.0,120.0 434.0,119.0 434.9,119.1 435.9,117.7 437.0,116.5 438.1,115.8 438.5,115.1 438.8,112.9 439.2,112.8 439.6,110.3 439.9,109.3 440.3,108.2 440.9,106.5 441.4,106.8 441.9,104.4 442.5,103.3 443.5,102.5 444.4,102.7 445.4,101.7 445.6,99.6 445.9,99.4 446.1,96.8 446.4,96.5 446.6,95.1 446.9,93.4 447.3,95.9 447.6,96.9 448.0,97.8 448.4,98.9 449.1,97.2 449.9,97.1 450.6,95.4 451.3,93.6 451.8,95.3 452.2,96.1 452.7,97.3 453.2,95.5 453.8,95.6 454.3,94.4 454.9,93.9 455.6,91.3 456.4,91.3 457.1,88.9 457.6,88.4 458.1,86.7 458.6,85.4 459.1,84.0 459.5,82.6 460.4,83.6 461.2,85.1 463.0,85.2 463.3,85.0 463.6,83.7 463.9,81.2 464.2,80.6 464.5,79.8 464.8,79.0 465.0,79.6 465.2,80.1 465.3,81.1 465.5,82.7 465.7,84.3 466.3,85.8 466.8,87.8 467.4,88.2 467.6,90.1 467.9,90.9 468.1,92.8 468.4,95.0 468.6,95.8 468.8,97.1 469.0,98.5 469.3,100.2 469.5,100.4 469.7,101.3 469.9,103.4 470.2,105.1 470.5,105.4 470.8,106.8 471.1,108.1 471.4,108.7 471.9,110.8 472.3,112.2 472.8,112.9 473.2,113.7 473.7,115.0 474.5,116.5 475.2,117.2 476.0,118.6 476.8,120.6 477.9,121.2 479.1,121.5 480.2,122.1 481.3,122.8 482.5,123.7 483.7,123.8 485.0,124.8 486.2,125.0 487.4,125.5 488.7,125.6 489.9,125.9 491.2,126.3 492.5,126.4 493.7,126.4 495.0,127.3 496.3,126.8 497.7,127.3 499.0,127.4 500.4,127.4 501.7,127.2 503.0,127.5 504.4,127.7 505.7,127.8 507.4,127.8 509.0,128.0" fill="none" stroke="#000" stroke-width="1.8" stroke-linejoin="round"/>
<line x1="415.0" y1="42.3" x2="415.0" y2="131.20000000000002" stroke="#000" stroke-width="1.1"/>
<line x1="415.0" y1="130.0" x2="509.3" y2="130.0" stroke="#111" stroke-width="1.0"/>
<path d="M412.70 129.40H415.0M413.10 127.23H415.0M413.10 125.07H415.0M413.10 122.91H415.0M413.10 120.74H415.0M412.70 118.58H415.0M413.10 116.41H415.0M413.10 114.25H415.0M413.10 112.08H415.0M413.10 109.92H415.0M412.70 107.75H415.0M413.10 105.59H415.0M413.10 103.42H415.0M413.10 101.26H415.0M413.10 99.09H415.0M412.70 96.93H415.0M413.10 94.76H415.0M413.10 92.59H415.0M413.10 90.43H415.0M413.10 88.27H415.0M412.70 86.10H415.0M413.10 83.94H415.0M413.10 81.77H415.0M413.10 79.61H415.0M413.10 77.44H415.0M412.70 75.28H415.0M413.10 73.11H415.0M413.10 70.95H415.0M413.10 68.78H415.0M413.10 66.62H415.0M412.70 64.45H415.0M413.10 62.29H415.0M413.10 60.12H415.0M413.10 57.95H415.0M413.10 55.79H415.0M412.70 53.62H415.0M413.10 51.46H415.0M413.10 49.30H415.0M413.10 47.13H415.0M413.10 44.97H415.0M412.70 42.80H415.0" stroke="#000" stroke-width="0.75" fill="none"/>
<text transform="translate(409.8,129.4) rotate(-90)" font-size="4.8" font-weight="400" text-anchor="middle" fill="#000" stroke="#000" stroke-width="0.15">0</text>
<text transform="translate(409.8,118.58) rotate(-90)" font-size="4.8" font-weight="400" text-anchor="middle" fill="#000" stroke="#000" stroke-width="0.15">10</text>
<text transform="translate(409.8,107.75) rotate(-90)" font-size="4.8" font-weight="400" text-anchor="middle" fill="#000" stroke="#000" stroke-width="0.15">20</text>
<text transform="translate(409.8,96.93) rotate(-90)" font-size="4.8" font-weight="400" text-anchor="middle" fill="#000" stroke="#000" stroke-width="0.15">30</text>
<text transform="translate(409.8,86.1) rotate(-90)" font-size="4.8" font-weight="400" text-anchor="middle" fill="#000" stroke="#000" stroke-width="0.15">40</text>
<text transform="translate(409.8,75.28) rotate(-90)" font-size="4.8" font-weight="400" text-anchor="middle" fill="#000" stroke="#000" stroke-width="0.15">50</text>
<text transform="translate(409.8,64.45) rotate(-90)" font-size="4.8" font-weight="400" text-anchor="middle" fill="#000" stroke="#000" stroke-width="0.15">60</text>
<text transform="translate(409.8,53.62) rotate(-90)" font-size="4.8" font-weight="400" text-anchor="middle" fill="#000" stroke="#000" stroke-width="0.15">70</text>
<text transform="translate(409.8,42.8) rotate(-90)" font-size="4.8" font-weight="400" text-anchor="middle" fill="#000" stroke="#000" stroke-width="0.15">80</text>
<text transform="translate(398.0,84.5) rotate(-90)" font-size="6.7" font-weight="400" text-anchor="middle" fill="#000">Relative number of cells</text>
<path d="M415.00 129.4V131.20000000000002M422.10 129.4V130.5M426.25 129.4V130.5M429.19 129.4V130.5M431.48 129.4V130.5M433.34 129.4V130.5M434.92 129.4V130.5M436.29 129.4V130.5M437.50 129.4V130.5M438.57 129.4V131.20000000000002M445.67 129.4V130.5M449.82 129.4V130.5M452.77 129.4V130.5M455.05 129.4V130.5M456.92 129.4V130.5M458.50 129.4V130.5M459.87 129.4V130.5M461.07 129.4V130.5M462.15 129.4V131.20000000000002M469.25 129.4V130.5M473.40 129.4V130.5M476.34 129.4V130.5M478.63 129.4V130.5M480.49 129.4V130.5M482.07 129.4V130.5M483.44 129.4V130.5M484.65 129.4V130.5M485.73 129.4V131.20000000000002M492.82 129.4V130.5M496.97 129.4V130.5M499.92 129.4V130.5M502.20 129.4V130.5M504.07 129.4V130.5M505.65 129.4V130.5M507.02 129.4V130.5M508.22 129.4V130.5M509.3 129.4V131.20000000000002" stroke="#444" stroke-width="0.6" fill="none"/>
<text x="415.40" y="138.6" font-size="5.2" text-anchor="middle">10<tspan dx="0" dy="-3.0" font-size="3.9">0</tspan></text>
<text x="438.97" y="138.6" font-size="5.2" text-anchor="middle">10<tspan dx="0" dy="-3.0" font-size="3.9">1</tspan></text>
<text x="462.55" y="138.6" font-size="5.2" text-anchor="middle">10<tspan dx="0" dy="-3.0" font-size="3.9">2</tspan></text>
<text x="486.12" y="138.6" font-size="5.2" text-anchor="middle">10<tspan dx="0" dy="-3.0" font-size="3.9">3</tspan></text>
<text x="509.70" y="138.6" font-size="5.2" text-anchor="middle">10<tspan dx="0" dy="-3.0" font-size="3.9">4</tspan></text>
<text x="410.2" y="148.6" font-size="6.4" font-weight="400" text-anchor="start" fill="#000">Fluorescent intensity of anti-HLA-E Ab</text>
<text x="412.1" y="155.9" font-size="6.4" font-weight="400" text-anchor="start" fill="#000">+ biotin-conjugated goat anti-mouse</text>
<text x="427.1" y="163.5" font-size="6.4" font-weight="400" text-anchor="start" fill="#000">IgG Ab + steptavidin-PE</text>
<text x="1" y="185.8" font-size="11.5" font-weight="700" text-anchor="start" fill="#000">E</text>
<polyline points="26.5,203.5 115.5,203.5 115.5,291.4" fill="none" stroke="#666" stroke-width="1.0"/>
<polyline points="27.2,289.0 29.8,283.1 32.1,275.5 34.4,260.2 35.9,245.0 36.7,242.7 39.0,230.5 41.2,222.9 42.8,235.0 43.5,245.0 45.0,260.2 46.6,275.5 48.9,282.3 52.0,287.5 58.0,289.3 115.0,289.8" fill="none" stroke="#7a7a7a" stroke-width="1.0" stroke-dasharray="1.1 1.9"/>
<polyline points="27.2,289.4 28.5,289.3 29.7,289.3 31.0,289.5 32.3,289.3 33.6,289.2 34.8,289.4 36.1,289.1 37.4,289.2 38.6,289.3 39.9,289.1 41.2,289.0 42.5,288.9 43.7,289.1 45.0,289.0 46.3,288.7 47.6,288.5 48.8,288.7 50.1,288.5 51.4,288.5 52.7,288.2 53.9,288.1 55.2,287.9 56.5,287.7 57.9,287.0 59.2,286.4 60.6,285.8 62.0,285.4 63.0,284.6 64.0,283.6 65.0,282.9 66.0,282.0 66.5,281.0 67.0,280.0 67.5,278.1 68.0,277.1 68.5,276.4 68.7,274.4 68.9,273.0 69.2,272.7 69.4,270.9 69.6,269.4 69.8,268.1 70.1,268.0 70.3,266.4 70.5,264.6 70.7,264.3 70.9,262.4 71.1,261.4 71.3,259.9 71.5,257.9 71.7,257.2 71.9,255.6 72.1,255.1 72.3,253.2 72.5,251.6 72.7,251.3 72.8,249.1 73.0,248.0 73.1,247.4 73.2,245.5 73.4,244.4 73.5,243.2 73.7,243.0 73.8,241.8 74.0,240.5 74.1,239.0 74.3,237.4 74.4,236.3 74.5,235.1 74.7,233.3 74.8,233.1 74.9,230.9 75.1,230.1 75.2,229.3 75.4,230.2 75.6,232.2 75.9,233.1 76.1,234.5 76.3,235.7 76.7,236.9 77.0,237.7 77.4,240.0 77.8,241.1 78.1,241.5 78.5,243.1 78.9,244.3 79.3,245.9 79.8,246.7 80.2,247.9 80.6,249.2 81.0,251.1 81.3,252.7 81.6,253.1 81.9,254.6 82.1,256.1 82.4,257.5 82.7,258.4 83.0,259.6 83.3,261.3 83.7,263.0 84.0,263.8 84.3,265.5 84.7,267.1 85.0,268.2 85.3,269.0 85.7,270.5 86.0,272.1 86.3,273.8 86.7,274.9 87.0,275.6 87.5,277.4 88.0,278.5 88.5,279.8 89.0,280.5 89.5,282.1 90.0,283.2 91.0,283.8 92.0,285.1 93.0,285.9 94.0,287.2 95.2,287.4 96.4,287.9 97.6,288.2 98.8,288.3 100.0,288.6 101.2,288.8 102.5,288.8 103.8,288.8 105.0,289.0 106.2,289.0 107.5,289.3 108.8,289.4 110.0,289.2 111.2,289.5 112.5,289.4 113.8,289.5 115.0,289.5" fill="none" stroke="#222" stroke-width="0.85" stroke-linejoin="round"/>
<polyline points="27.2,288.6 28.5,288.4 29.8,288.6 31.1,289.0 32.5,289.2 33.8,289.0 35.1,289.2 36.4,289.3 37.8,289.1 39.1,288.9 40.5,288.5 41.8,288.8 43.1,288.7 44.5,288.4 45.8,288.2 47.1,287.8 48.3,287.6 49.6,287.2 50.9,287.1 52.1,286.9 53.4,286.7 54.7,285.6 55.9,285.6 57.2,284.6 58.3,284.3 59.4,283.7 60.5,283.4 61.6,282.4 62.5,281.8 63.4,280.4 64.2,280.1 65.1,279.0 66.0,278.4 66.5,277.0 67.1,275.7 67.7,275.0 68.2,273.8 68.8,271.3 69.3,269.8 69.5,270.1 69.8,268.0 70.0,267.3 70.3,265.4 70.5,264.6 70.8,263.9 71.0,261.1 71.3,260.2 71.5,259.7 71.7,258.4 71.9,257.8 72.1,256.0 72.2,254.4 72.4,253.3 72.6,252.8 72.8,250.6 73.0,250.2 73.1,248.6 73.2,246.7 73.3,246.3 73.5,244.0 73.6,244.0 73.7,242.9 73.8,240.8 74.0,239.4 74.1,237.4 74.2,236.8 74.4,234.9 74.5,234.3 74.7,232.3 74.8,230.6 75.0,230.6 75.2,229.1 75.5,230.1 75.8,232.2 76.2,233.3 76.5,233.3 76.8,234.8 77.1,237.2 77.4,238.5 77.7,240.4 78.0,241.3 79.1,241.6 79.4,243.8 79.7,244.3 79.9,244.9 80.2,246.0 80.5,248.4 80.8,249.3 81.0,251.1 81.3,252.3 81.6,252.7 81.9,255.5 82.1,256.2 82.4,257.1 82.7,258.2 82.9,260.2 83.2,260.8 83.5,262.2 83.7,263.9 84.0,264.9 84.3,265.5 84.7,267.6 85.0,269.0 85.4,270.4 85.7,271.4 86.1,273.4 86.4,273.7 86.8,275.8 87.2,276.8 87.5,278.7 87.9,278.8 88.3,280.8 88.8,281.8 89.2,282.5 89.6,283.9 90.4,285.5 91.2,286.7 92.7,287.2 94.2,288.0 95.6,288.4 96.9,288.7 98.3,288.9 99.6,289.3 101.0,289.7 102.4,289.7 103.8,289.6 105.2,290.0 106.6,289.8 108.0,290.0 109.4,289.9 110.8,290.5 112.2,290.5 113.6,290.6 115.0,290.8" fill="none" stroke="#000" stroke-width="1.8" stroke-linejoin="round"/>
<line x1="26.9" y1="202.5" x2="26.9" y2="291.7" stroke="#000" stroke-width="1.1"/>
<line x1="26.9" y1="290.5" x2="115.1" y2="290.5" stroke="#777" stroke-width="0.8"/>
<path d="M24.60 289.90H26.9M25.00 287.00H26.9M25.00 284.11H26.9M25.00 281.21H26.9M25.00 278.31H26.9M24.60 275.42H26.9M25.00 272.52H26.9M25.00 269.62H26.9M25.00 266.73H26.9M25.00 263.83H26.9M24.60 260.93H26.9M25.00 258.04H26.9M25.00 255.14H26.9M25.00 252.24H26.9M25.00 249.35H26.9M24.60 246.45H26.9M25.00 243.55H26.9M25.00 240.66H26.9M25.00 237.76H26.9M25.00 234.86H26.9M24.60 231.97H26.9M25.00 229.07H26.9M25.00 226.17H26.9M25.00 223.28H26.9M25.00 220.38H26.9M24.60 217.48H26.9M25.00 214.59H26.9M25.00 211.69H26.9M25.00 208.79H26.9M25.00 205.90H26.9M24.60 203.00H26.9" stroke="#000" stroke-width="0.75" fill="none"/>
<text transform="translate(21.9,289.9) rotate(-90)" font-size="5.6" font-weight="400" text-anchor="middle" fill="#000" stroke="#000" stroke-width="0.15">0</text>
<text transform="translate(21.9,275.42) rotate(-90)" font-size="5.6" font-weight="400" text-anchor="middle" fill="#000" stroke="#000" stroke-width="0.15">20</text>
<text transform="translate(21.9,260.93) rotate(-90)" font-size="5.6" font-weight="400" text-anchor="middle" fill="#000" stroke="#000" stroke-width="0.15">40</text>
<text transform="translate(21.9,246.45) rotate(-90)" font-size="5.6" font-weight="400" text-anchor="middle" fill="#000" stroke="#000" stroke-width="0.15">60</text>
<text transform="translate(21.9,231.97) rotate(-90)" font-size="5.6" font-weight="400" text-anchor="middle" fill="#000" stroke="#000" stroke-width="0.15">80</text>
<text transform="translate(21.9,217.48) rotate(-90)" font-size="5.6" font-weight="400" text-anchor="middle" fill="#000" stroke="#000" stroke-width="0.15">100</text>
<text transform="translate(21.9,203.0) rotate(-90)" font-size="5.6" font-weight="400" text-anchor="middle" fill="#000" stroke="#000" stroke-width="0.15">120</text>
<text transform="translate(7.7,243.1) rotate(-90)" font-size="6.7" font-weight="400" text-anchor="middle" fill="#000">Relative number of cells</text>
<path d="M26.90 289.9V291.7M33.54 289.9V291.0M37.42 289.9V291.0M40.18 289.9V291.0M42.31 289.9V291.0M44.06 289.9V291.0M45.53 289.9V291.0M46.81 289.9V291.0M47.94 289.9V291.0M48.95 289.9V291.7M55.59 289.9V291.0M59.47 289.9V291.0M62.23 289.9V291.0M64.36 289.9V291.0M66.11 289.9V291.0M67.58 289.9V291.0M68.86 289.9V291.0M69.99 289.9V291.0M71.00 289.9V291.7M77.64 289.9V291.0M81.52 289.9V291.0M84.28 289.9V291.0M86.41 289.9V291.0M88.16 289.9V291.0M89.63 289.9V291.0M90.91 289.9V291.0M92.04 289.9V291.0M93.05 289.9V291.7M99.69 289.9V291.0M103.57 289.9V291.0M106.33 289.9V291.0M108.46 289.9V291.0M110.21 289.9V291.0M111.68 289.9V291.0M112.96 289.9V291.0M114.09 289.9V291.0M115.1 289.9V291.7" stroke="#444" stroke-width="0.6" fill="none"/>
<text x="27.00" y="301.0" font-size="6.3" text-anchor="middle">10<tspan dx="0.5" dy="-3.6" font-size="5.1">0</tspan></text>
<text x="49.05" y="301.0" font-size="6.3" text-anchor="middle">10<tspan dx="0.5" dy="-3.6" font-size="5.1">1</tspan></text>
<text x="71.10" y="301.0" font-size="6.3" text-anchor="middle">10<tspan dx="0.5" dy="-3.6" font-size="5.1">2</tspan></text>
<text x="93.15" y="301.0" font-size="6.3" text-anchor="middle">10<tspan dx="0.5" dy="-3.6" font-size="5.1">3</tspan></text>
<text x="115.20" y="301.0" font-size="6.3" text-anchor="middle">10<tspan dx="0.5" dy="-3.6" font-size="5.1">4</tspan></text>
<text x="28.1" y="309.8" font-size="6.4" font-weight="400" text-anchor="start" fill="#000">Fluorescent intensity of FITC-</text>
<text x="31.3" y="317.1" font-size="6.4" font-weight="400" text-anchor="start" fill="#000">conjugated anti-HLA-A2 Ab</text>
<text x="127.5" y="185.3" font-size="11.5" font-weight="700" text-anchor="start" fill="#000">F</text>
<polyline points="156.5,201.5 245.5,201.5 245.5,291.5" fill="none" stroke="#666" stroke-width="1.0"/>
<polyline points="156.3,289.0 158.0,286.2 159.6,280.0 161.9,264.8 164.1,245.0 164.9,242.7 166.4,230.5 169.5,220.6 171.8,233.5 173.3,245.0 174.5,260.2 175.6,272.4 177.9,281.6 181.7,285.4 187.0,287.7 200.0,288.5 245.5,288.5" fill="none" stroke="#7a7a7a" stroke-width="1.0" stroke-dasharray="1.1 1.9"/>
<polyline points="159.8,286.2 161.4,280.0 163.7,264.8 165.9,245.0 166.7,242.7 168.2,230.5 171.3,220.6 173.6,233.5 175.1,245.0 176.3,260.2 177.4,272.4 179.7,281.6 183.5,285.4" fill="none" stroke="#7a7a7a" stroke-width="1.0" stroke-dasharray="1.1 1.9"/>
<polyline points="156.3,289.9 157.5,289.7 158.8,289.4 160.0,289.2 161.3,289.1 162.5,288.6 163.8,288.2 165.0,288.0 166.3,287.6 167.5,287.6 168.8,287.3 170.0,287.0 171.0,286.3 172.0,285.7 173.0,285.1 174.0,284.0 175.0,283.6 176.0,282.5 177.0,282.2 177.4,280.9 177.8,279.1 178.1,277.9 178.5,276.7 178.9,276.0 179.2,274.4 179.6,273.2 180.0,272.1 180.2,270.2 180.4,270.0 180.5,268.8 180.7,267.5 180.9,265.9 181.1,265.0 181.2,263.5 181.4,262.2 181.6,261.6 181.8,259.5 182.0,258.2 182.1,257.4 182.3,255.7 182.5,254.5 182.7,253.6 182.9,253.0 183.0,251.5 183.2,249.7 183.4,249.3 183.6,248.2 183.8,246.9 183.9,245.3 184.1,243.7 184.3,243.0 184.5,241.2 184.6,240.9 184.8,239.5 185.0,238.6 185.3,237.0 185.7,235.8 186.0,234.1 186.3,232.5 186.7,230.9 187.0,230.4 188.0,230.7 189.0,232.5 189.2,233.7 189.4,235.1 189.6,236.4 189.8,236.9 190.0,238.7 190.2,240.1 190.4,240.8 190.6,242.8 190.8,243.7 191.0,244.5 191.3,245.9 191.5,246.9 191.8,248.3 192.1,249.8 192.4,251.4 192.6,251.8 192.9,253.4 193.2,254.5 193.5,256.1 193.7,256.3 194.0,257.5 194.3,259.1 194.6,260.1 194.9,261.6 195.2,262.3 195.5,264.4 195.8,264.7 196.1,266.1 196.4,267.6 196.7,269.3 197.0,269.7 197.4,271.8 197.9,272.5 198.3,274.1 198.7,275.4 199.1,276.4 199.6,277.5 200.0,279.2 200.7,280.4 201.3,281.1 202.0,281.9 202.7,283.1 203.3,284.2 204.0,285.2 205.2,285.8 206.4,286.4 207.6,287.3 208.8,288.0 210.0,288.6 211.2,288.5 212.4,288.4 213.7,288.7 214.9,288.8 216.1,288.7 217.3,288.6 218.6,288.8 219.8,288.9 221.0,288.8 222.2,289.1 223.5,289.0 224.7,289.0 225.9,289.2 227.1,289.1 228.4,289.3 229.6,289.3 230.8,289.3 232.0,289.3 233.3,289.5 234.5,289.6 235.7,289.4 236.9,289.4 238.2,289.6 239.4,289.5 240.6,289.6 241.8,289.6 243.1,289.7 244.3,289.9 245.5,289.8" fill="none" stroke="#222" stroke-width="0.85" stroke-linejoin="round"/>
<polyline points="156.3,289.9 157.9,289.6 159.6,289.3 160.8,288.7 162.0,288.7 163.3,288.3 164.5,288.2 165.7,287.9 166.9,287.1 168.1,286.9 169.4,286.4 170.6,285.9 171.8,285.5 172.9,284.6 174.1,283.3 175.2,282.4 176.3,281.7 176.8,280.2 177.3,279.3 177.9,277.4 178.4,276.2 178.9,275.2 179.4,273.3 179.6,273.1 179.8,271.0 180.0,269.3 180.2,269.3 180.4,267.5 180.7,266.5 180.9,264.7 181.1,264.2 181.3,262.7 181.5,260.7 181.7,260.5 181.9,258.3 182.1,258.1 182.3,256.8 182.5,255.3 182.7,253.6 182.8,253.7 183.0,252.6 183.2,250.8 183.4,249.8 183.6,247.8 183.8,247.7 184.0,245.6 184.2,244.7 184.3,243.0 184.5,242.5 184.7,240.5 184.8,240.5 185.0,239.4 185.2,236.8 185.3,235.8 185.5,235.5 186.1,233.8 186.7,232.9 187.2,231.6 187.8,229.8 188.1,230.4 188.4,232.0 188.7,233.5 189.0,235.2 189.3,236.5 189.6,237.8 189.9,238.1 190.2,240.4 190.5,241.0 190.8,242.2 191.1,244.0 191.3,245.1 191.6,246.8 191.8,247.9 192.1,249.6 192.3,250.2 192.7,250.9 193.1,253.0 193.4,253.4 193.8,254.7 194.1,256.3 194.4,257.9 194.7,259.8 195.1,260.9 195.4,262.0 195.7,262.3 195.9,264.4 196.2,265.4 196.4,266.0 196.7,266.9 196.9,269.2 197.2,270.7 197.4,271.7 197.7,272.2 198.0,273.5 198.3,274.8 198.8,277.1 199.2,278.4 199.7,279.0 200.1,280.6 200.6,281.8 201.6,283.2 202.5,283.9 203.4,285.2 204.4,286.5 205.7,287.0 207.1,287.1 208.4,287.9 209.7,288.6 210.9,288.6 212.1,288.8 213.4,288.9 214.6,289.2 215.8,289.5 217.0,289.4 218.3,289.7 219.5,289.3 220.8,289.6 222.0,289.5 223.2,289.7 224.5,289.5 225.7,289.8 226.9,289.6 228.2,289.8 229.4,289.6 230.7,289.8 231.9,289.7 233.1,289.9 234.4,290.0 235.6,289.7 236.8,289.7 238.1,290.1 239.3,289.7 240.6,289.9 241.8,290.1 243.0,290.1 244.3,290.0 245.5,290.0" fill="none" stroke="#000" stroke-width="1.8" stroke-linejoin="round"/>
<polygon points="184.3,244.0 184.8,234.0 186.0,232.0 187.3,229.0 188.3,229.0 188.6,234.0 189.8,238.0 190.5,244.0 187.5,246.0" fill="#000"/>
<line x1="156.0" y1="200.5" x2="156.0" y2="291.8" stroke="#000" stroke-width="1.1"/>
<line x1="156.0" y1="290.6" x2="245.5" y2="290.6" stroke="#777" stroke-width="0.8"/>
<path d="M153.70 290.00H156.0M154.10 287.03H156.0M154.10 284.07H156.0M154.10 281.10H156.0M154.10 278.13H156.0M153.70 275.17H156.0M154.10 272.20H156.0M154.10 269.23H156.0M154.10 266.27H156.0M154.10 263.30H156.0M153.70 260.33H156.0M154.10 257.37H156.0M154.10 254.40H156.0M154.10 251.43H156.0M154.10 248.47H156.0M153.70 245.50H156.0M154.10 242.53H156.0M154.10 239.57H156.0M154.10 236.60H156.0M154.10 233.63H156.0M153.70 230.67H156.0M154.10 227.70H156.0M154.10 224.73H156.0M154.10 221.77H156.0M154.10 218.80H156.0M153.70 215.83H156.0M154.10 212.87H156.0M154.10 209.90H156.0M154.10 206.93H156.0M154.10 203.97H156.0M153.70 201.00H156.0" stroke="#000" stroke-width="0.75" fill="none"/>
<text transform="translate(149.6,290.0) rotate(-90)" font-size="5.6" font-weight="400" text-anchor="middle" fill="#000" stroke="#000" stroke-width="0.15">0</text>
<text transform="translate(149.6,275.17) rotate(-90)" font-size="5.6" font-weight="400" text-anchor="middle" fill="#000" stroke="#000" stroke-width="0.15">20</text>
<text transform="translate(149.6,260.33) rotate(-90)" font-size="5.6" font-weight="400" text-anchor="middle" fill="#000" stroke="#000" stroke-width="0.15">40</text>
<text transform="translate(149.6,245.5) rotate(-90)" font-size="5.6" font-weight="400" text-anchor="middle" fill="#000" stroke="#000" stroke-width="0.15">60</text>
<text transform="translate(149.6,230.67) rotate(-90)" font-size="5.6" font-weight="400" text-anchor="middle" fill="#000" stroke="#000" stroke-width="0.15">80</text>
<text transform="translate(149.6,215.83) rotate(-90)" font-size="5.6" font-weight="400" text-anchor="middle" fill="#000" stroke="#000" stroke-width="0.15">100</text>
<text transform="translate(149.6,201.0) rotate(-90)" font-size="5.6" font-weight="400" text-anchor="middle" fill="#000" stroke="#000" stroke-width="0.15">120</text>
<text transform="translate(133.1,243.3) rotate(-90)" font-size="6.7" font-weight="400" text-anchor="middle" fill="#000">Relative number of cells</text>
<path d="M156.00 290.0V291.8M162.74 290.0V291.1M166.68 290.0V291.1M169.47 290.0V291.1M171.64 290.0V291.1M173.41 290.0V291.1M174.91 290.0V291.1M176.21 290.0V291.1M177.35 290.0V291.1M178.38 290.0V291.8M185.11 290.0V291.1M189.05 290.0V291.1M191.85 290.0V291.1M194.01 290.0V291.1M195.79 290.0V291.1M197.28 290.0V291.1M198.58 290.0V291.1M199.73 290.0V291.1M200.75 290.0V291.8M207.49 290.0V291.1M211.43 290.0V291.1M214.22 290.0V291.1M216.39 290.0V291.1M218.16 290.0V291.1M219.66 290.0V291.1M220.96 290.0V291.1M222.10 290.0V291.1M223.12 290.0V291.8M229.86 290.0V291.1M233.80 290.0V291.1M236.60 290.0V291.1M238.76 290.0V291.1M240.54 290.0V291.1M242.03 290.0V291.1M243.33 290.0V291.1M244.48 290.0V291.1M245.5 290.0V291.8" stroke="#444" stroke-width="0.6" fill="none"/>
<text x="156.10" y="300.6" font-size="6.3" text-anchor="middle">10<tspan dx="0.5" dy="-3.6" font-size="5.1">0</tspan></text>
<text x="178.47" y="300.6" font-size="6.3" text-anchor="middle">10<tspan dx="0.5" dy="-3.6" font-size="5.1">1</tspan></text>
<text x="200.85" y="300.6" font-size="6.3" text-anchor="middle">10<tspan dx="0.5" dy="-3.6" font-size="5.1">2</tspan></text>
<text x="223.22" y="300.6" font-size="6.3" text-anchor="middle">10<tspan dx="0.5" dy="-3.6" font-size="5.1">3</tspan></text>
<text x="245.60" y="300.6" font-size="6.3" text-anchor="middle">10<tspan dx="0.5" dy="-3.6" font-size="5.1">4</tspan></text>
<text x="158.7" y="311" font-size="6.4" font-weight="400" text-anchor="start" fill="#000">Fluorescent intensity of FITC-</text>
<text x="162.1" y="318.2" font-size="6.4" font-weight="400" text-anchor="start" fill="#000">conjugated anti-HLA-B7 Ab</text>
<text x="256.2" y="185.6" font-size="11.5" font-weight="700" text-anchor="start" fill="#000">G</text>
<polyline points="283.5,197.5 375.5,197.5 375.5,290.8" fill="none" stroke="#666" stroke-width="1.0"/>
<polyline points="283.5,288.0 285.8,275.0 288.1,265.9 290.4,255.2 293.4,240.0 295.0,232.3 297.2,240.0 298.8,252.2 300.3,264.4 301.8,273.5 303.3,279.6 306.0,285.0 310.0,287.5 320.0,288.0 376.0,288.5" fill="none" stroke="#7a7a7a" stroke-width="1.0" stroke-dasharray="1.1 1.9"/>
<polyline points="288.3,275.0 290.6,265.9 292.9,255.2 295.9,240.0 297.5,232.3 299.7,240.0 301.3,252.2 302.8,264.4 304.3,273.5 305.8,279.6 308.5,285.0" fill="none" stroke="#7a7a7a" stroke-width="1.0" stroke-dasharray="1.1 1.9"/>
<polyline points="283.5,279.6 284.6,277.7 285.4,276.8 286.2,275.6 287.0,274.2 288.6,273.1 290.1,273.0 290.9,273.6 291.7,275.9 292.5,274.8 293.3,273.5 293.7,274.9 294.1,275.7 294.5,276.9 294.9,278.5 295.7,279.2 296.5,280.7 297.7,281.0 298.9,281.1 299.4,279.6 300.0,278.3 300.5,277.1 302.0,278.6 303.2,277.9 304.4,277.4 305.2,276.3 306.0,275.4 306.8,273.7 307.4,273.3 308.0,271.6 308.6,270.5 309.2,269.1 309.6,268.7 310.0,266.9 310.4,266.2 310.8,264.0 311.2,263.3 311.6,261.7 311.9,261.5 312.1,259.1 312.4,258.6 312.7,256.9 312.9,255.4 313.2,254.8 313.9,256.1 314.7,257.9 315.0,256.3 315.3,255.2 315.7,253.9 316.0,251.9 316.3,251.3 317.1,250.1 317.9,248.9 318.7,247.8 319.5,246.8 320.3,245.3 321.1,244.5 321.3,243.2 321.6,241.4 321.8,240.4 322.0,238.5 322.3,237.1 322.5,236.0 322.7,234.9 322.9,233.4 323.1,232.2 323.3,230.6 323.5,229.9 323.9,229.2 324.2,228.0 324.6,226.4 325.0,224.8 325.5,224.1 326.0,223.1 326.5,221.8 327.0,220.2 327.7,218.9 328.3,217.6 329.0,216.7 329.3,217.8 329.7,220.0 330.0,220.6 330.3,221.9 330.7,223.8 331.0,225.1 331.2,226.6 331.4,227.3 331.7,228.9 331.9,230.0 332.1,231.0 332.3,232.3 332.6,233.2 332.8,234.3 333.0,236.6 333.2,237.4 333.5,238.1 333.8,239.8 334.0,241.4 334.2,242.5 334.5,243.9 334.8,245.2 335.0,246.2 335.2,247.3 335.5,248.1 335.8,249.2 336.0,250.6 336.2,251.9 336.5,253.7 336.8,254.6 337.0,255.4 337.2,257.3 337.4,258.6 337.6,259.5 337.8,261.3 338.0,262.3 338.2,263.1 338.4,264.7 338.6,265.3 338.8,266.2 339.0,268.6 339.4,268.8 339.9,269.8 340.3,271.9 340.7,272.1 341.1,274.1 341.6,274.9 342.0,275.9 342.7,276.8 343.3,277.8 344.0,279.3 344.7,280.3 345.3,281.0 346.0,281.9 347.0,282.5 348.0,283.6 349.0,284.0 350.0,284.8 351.0,285.5 352.0,286.0 353.3,286.4 354.7,286.8 356.0,287.1 357.3,287.5 358.7,287.6 360.0,287.9 361.2,287.9 362.5,288.0 363.7,288.3 364.9,288.3 366.2,288.5 367.4,288.6 368.6,288.4 369.8,288.7 371.1,288.5 372.3,288.6 373.5,289.0 374.8,289.0 376.0,289.0" fill="none" stroke="#222" stroke-width="0.85" stroke-linejoin="round"/>
<polyline points="283.5,285.6 284.8,285.0 286.0,284.7 287.0,285.2 288.0,286.1 290.0,284.9 291.5,285.7 293.0,286.0 294.4,286.0 295.8,285.2 297.2,285.0 298.4,284.6 299.5,284.4 300.6,283.6 301.8,283.2 302.8,282.3 303.9,281.6 304.9,280.7 305.8,279.8 306.8,278.5 307.8,278.0 308.7,276.0 309.2,275.9 309.8,273.9 310.3,273.1 310.9,271.6 311.4,271.8 312.0,269.2 312.5,269.4 313.0,268.1 313.4,265.9 313.9,265.0 314.4,265.2 314.9,263.5 315.4,261.8 315.8,261.4 316.3,260.6 316.7,258.4 317.0,256.5 317.4,256.3 317.8,255.3 318.1,253.9 318.5,251.1 318.8,250.5 319.1,249.4 319.4,248.2 319.7,245.8 320.0,245.4 320.2,243.7 320.4,243.2 320.6,241.6 320.8,239.6 321.0,238.5 321.2,238.1 321.4,236.2 321.6,235.1 321.8,234.2 322.1,232.7 322.3,230.9 322.5,229.1 322.7,228.3 322.9,228.0 323.1,226.3 323.3,225.6 323.5,224.0 323.7,222.5 324.0,223.9 324.3,224.7 324.6,225.9 324.9,228.0 325.2,228.5 325.5,227.7 325.7,225.7 326.0,225.1 326.2,223.2 326.5,223.1 326.7,222.0 327.0,220.4 327.7,217.8 328.4,216.9 329.1,215.9 329.3,217.5 329.5,218.5 329.7,218.7 330.0,220.2 330.2,222.8 330.4,222.9 330.6,225.2 330.9,226.2 331.1,226.7 331.4,228.0 331.6,230.0 331.9,230.9 332.1,231.6 332.4,234.0 332.6,235.7 332.9,236.2 333.1,236.6 333.4,239.6 333.6,239.9 333.9,242.1 334.1,243.0 334.4,243.4 334.6,245.9 334.9,246.0 335.1,247.0 335.4,248.4 335.7,251.0 336.0,252.4 336.3,252.6 336.6,254.2 336.9,255.7 337.0,256.9 337.2,258.1 337.4,258.9 337.5,260.4 337.6,260.9 337.8,261.6 337.9,264.2 338.1,265.1 338.2,266.9 338.4,267.0 338.7,269.2 339.0,270.7 339.4,270.8 339.7,272.0 340.0,273.4 341.0,274.0 342.0,276.6 342.9,276.5 343.8,277.6 344.6,279.3 345.3,280.6 346.1,281.9 346.8,282.7 347.9,283.5 349.1,283.4 350.2,284.7 351.4,284.9 352.9,284.5 354.4,283.7 355.5,283.7 356.7,284.8 357.9,285.2 359.0,285.9 360.1,286.0 361.3,286.5 362.5,287.0 363.6,287.2 365.1,288.0 366.6,289.1 367.9,288.8 369.3,289.3 370.6,289.2 372.0,289.4 373.3,289.3 374.7,289.3 376.0,289.3" fill="none" stroke="#000" stroke-width="1.8" stroke-linejoin="round"/>
<line x1="283.3" y1="196.9" x2="283.3" y2="291.1" stroke="#000" stroke-width="1.1"/>
<line x1="283.3" y1="289.90000000000003" x2="375.9" y2="289.90000000000003" stroke="#777" stroke-width="0.8"/>
<path d="M281.00 289.30H283.3M281.40 284.70H283.3M281.40 280.11H283.3M281.40 275.51H283.3M281.40 270.92H283.3M281.00 266.32H283.3M281.40 261.73H283.3M281.40 257.13H283.3M281.40 252.54H283.3M281.40 247.94H283.3M281.00 243.35H283.3M281.40 238.75H283.3M281.40 234.16H283.3M281.40 229.56H283.3M281.40 224.97H283.3M281.00 220.38H283.3M281.40 215.78H283.3M281.40 211.19H283.3M281.40 206.59H283.3M281.40 202.00H283.3M281.00 197.40H283.3" stroke="#000" stroke-width="0.75" fill="none"/>
<text transform="translate(278,289.3) rotate(-90)" font-size="5.6" font-weight="400" text-anchor="middle" fill="#000" stroke="#000" stroke-width="0.15">0</text>
<text transform="translate(278,266.32) rotate(-90)" font-size="5.6" font-weight="400" text-anchor="middle" fill="#000" stroke="#000" stroke-width="0.15">10</text>
<text transform="translate(278,243.35) rotate(-90)" font-size="5.6" font-weight="400" text-anchor="middle" fill="#000" stroke="#000" stroke-width="0.15">20</text>
<text transform="translate(278,220.38) rotate(-90)" font-size="5.6" font-weight="400" text-anchor="middle" fill="#000" stroke="#000" stroke-width="0.15">30</text>
<text transform="translate(278,198.2) rotate(-90)" font-size="5.6" font-weight="400" text-anchor="middle" fill="#000" stroke="#000" stroke-width="0.15">40</text>
<text transform="translate(263.8,244.0) rotate(-90)" font-size="6.7" font-weight="400" text-anchor="middle" fill="#000">Relative number of cells</text>
<path d="M283.30 289.3V291.1M290.27 289.3V290.40000000000003M294.35 289.3V290.40000000000003M297.24 289.3V290.40000000000003M299.48 289.3V290.40000000000003M301.31 289.3V290.40000000000003M302.86 289.3V290.40000000000003M304.21 289.3V290.40000000000003M305.39 289.3V290.40000000000003M306.45 289.3V291.1M313.42 289.3V290.40000000000003M317.50 289.3V290.40000000000003M320.39 289.3V290.40000000000003M322.63 289.3V290.40000000000003M324.46 289.3V290.40000000000003M326.01 289.3V290.40000000000003M327.36 289.3V290.40000000000003M328.54 289.3V290.40000000000003M329.60 289.3V291.1M336.57 289.3V290.40000000000003M340.65 289.3V290.40000000000003M343.54 289.3V290.40000000000003M345.78 289.3V290.40000000000003M347.61 289.3V290.40000000000003M349.16 289.3V290.40000000000003M350.51 289.3V290.40000000000003M351.69 289.3V290.40000000000003M352.75 289.3V291.1M359.72 289.3V290.40000000000003M363.80 289.3V290.40000000000003M366.69 289.3V290.40000000000003M368.93 289.3V290.40000000000003M370.76 289.3V290.40000000000003M372.31 289.3V290.40000000000003M373.66 289.3V290.40000000000003M374.84 289.3V290.40000000000003M375.9 289.3V291.1" stroke="#444" stroke-width="0.6" fill="none"/>
<text x="283.40" y="300.6" font-size="6.3" text-anchor="middle">10<tspan dx="0.5" dy="-3.6" font-size="5.1">0</tspan></text>
<text x="306.55" y="300.6" font-size="6.3" text-anchor="middle">10<tspan dx="0.5" dy="-3.6" font-size="5.1">1</tspan></text>
<text x="329.70" y="300.6" font-size="6.3" text-anchor="middle">10<tspan dx="0.5" dy="-3.6" font-size="5.1">2</tspan></text>
<text x="352.85" y="300.6" font-size="6.3" text-anchor="middle">10<tspan dx="0.5" dy="-3.6" font-size="5.1">3</tspan></text>
<text x="376.00" y="300.6" font-size="6.3" text-anchor="middle">10<tspan dx="0.5" dy="-3.6" font-size="5.1">4</tspan></text>
<text x="275.5" y="308.7" font-size="6.4" font-weight="400" text-anchor="start" fill="#000">Fluoresent intensity of anti-HLA-C Ab +</text>
<text x="281.8" y="316.8" font-size="6.4" font-weight="400" text-anchor="start" fill="#000">PE-conjugated goat anti-mouse Ab</text>
<text x="388" y="185.9" font-size="11.5" font-weight="700" text-anchor="start" fill="#000">H</text>
<polyline points="415.5,196.5 509.5,196.5 509.5,291.2" fill="none" stroke="#666" stroke-width="1.0"/>
<polyline points="415.5,287.0 418.0,284.0 420.1,279.6 423.1,272.0 426.2,262.9 429.2,250.7 431.5,240.0 432.3,235.7 434.6,225.8 436.9,232.6 438.4,241.8 439.9,255.2 441.4,266.7 443.7,278.1 446.0,284.2 450.0,287.0 509.0,287.3" fill="none" stroke="#7a7a7a" stroke-width="1.0" stroke-dasharray="1.1 1.9"/>
<polyline points="420.6,284.0 422.7,279.6 425.7,272.0 428.8,262.9 431.8,250.7 434.1,240.0 434.9,235.7 437.2,225.8 439.5,232.6 441.0,241.8 442.5,255.2 444.0,266.7 446.3,278.1 448.6,284.2" fill="none" stroke="#7a7a7a" stroke-width="1.0" stroke-dasharray="1.1 1.9"/>
<polyline points="415.5,287.4 416.9,287.4 418.2,287.0 419.6,286.9 420.9,286.9 422.3,286.6 423.6,286.5 425.0,286.2 426.4,286.0 427.8,286.0 429.2,285.3 430.6,285.3 432.0,284.8 433.2,284.7 434.4,283.9 435.6,283.4 436.8,282.8 438.0,282.4 438.9,281.3 439.8,280.6 440.6,279.5 441.5,278.2 441.9,276.7 442.2,275.7 442.6,273.7 443.0,272.4 443.3,271.3 443.7,270.6 443.9,268.4 444.1,267.2 444.2,266.9 444.4,265.0 444.6,264.4 444.8,262.8 445.0,262.1 445.1,260.6 445.3,259.5 445.5,258.2 445.6,257.2 445.8,255.1 445.9,254.2 446.0,252.5 446.1,252.1 446.2,250.1 446.4,248.7 446.5,248.4 446.6,246.3 446.7,245.4 446.8,244.4 446.9,243.2 447.0,242.2 447.1,240.3 447.2,240.0 447.3,238.4 447.4,236.6 447.5,236.6 447.6,234.8 447.8,233.1 447.9,232.1 448.0,230.5 448.1,230.2 448.2,228.5 448.4,227.3 448.5,226.4 448.7,224.6 448.9,223.1 449.1,222.1 449.3,220.1 449.5,218.5 449.9,217.2 450.4,216.2 450.9,214.9 451.3,213.6 451.5,214.2 451.6,215.8 451.8,217.4 452.0,218.1 452.2,219.4 452.3,221.3 452.5,221.9 452.7,220.4 452.9,219.2 453.1,217.6 453.3,216.5 453.5,215.5 453.7,216.8 453.9,217.7 454.1,219.1 454.2,219.6 454.4,221.2 454.6,222.9 454.8,224.2 455.0,225.3 455.1,226.4 455.2,227.5 455.2,228.2 455.3,230.3 455.4,230.9 455.5,232.7 455.6,233.3 455.7,235.1 455.8,235.8 455.8,237.1 455.9,238.5 456.0,240.1 456.1,240.9 456.2,242.6 456.3,243.8 456.4,245.1 456.5,246.4 456.6,247.6 456.7,248.4 456.8,250.1 456.9,251.4 457.0,252.3 457.1,253.8 457.2,254.4 457.3,255.2 457.4,257.0 457.5,257.5 457.7,259.5 457.9,260.1 458.0,261.4 458.2,263.6 458.4,263.8 458.6,266.1 458.8,266.7 459.0,268.2 459.1,269.1 459.3,270.6 459.5,271.6 459.8,273.8 460.1,274.4 460.4,275.6 460.6,277.3 460.9,278.3 461.2,279.5 461.5,281.1 462.1,282.5 462.8,283.3 463.4,284.6 464.0,285.9 465.3,286.8 466.7,287.5 468.0,288.1 469.4,288.4 470.8,288.5 472.2,288.7 473.6,288.5 475.0,288.7 476.2,288.7 477.4,288.7 478.6,288.7 479.9,288.6 481.1,288.6 482.3,288.9 483.5,288.8 484.7,288.8 485.9,288.7 487.1,288.7 488.4,288.7 489.6,288.9 490.8,288.9 492.0,288.9 493.2,289.0 494.4,288.7 495.6,288.7 496.9,289.0 498.1,288.7 499.3,288.9 500.5,288.9 501.7,288.9 502.9,288.8 504.1,288.8 505.4,288.8 506.6,288.8 507.8,289.0 509.0,288.9" fill="none" stroke="#222" stroke-width="0.85" stroke-linejoin="round"/>
<polyline points="415.6,273.0 415.7,274.8 415.8,275.9 415.9,277.3 416.0,278.4 416.1,279.1 416.1,280.4 416.2,281.6 416.3,283.4 416.4,284.5 416.5,286.0 418.6,285.6 419.9,285.9 421.1,286.0 422.4,285.5 423.7,285.9 424.9,285.7 426.2,285.8 427.4,285.7 428.6,284.7 429.9,284.5 431.1,284.8 432.3,283.9 433.5,284.0 434.7,283.2 436.0,282.2 437.2,282.3 438.4,281.7 439.1,279.5 439.9,279.3 440.6,278.0 441.4,276.2 441.7,275.2 442.1,273.5 442.4,273.2 442.7,270.9 443.0,269.6 443.4,268.4 443.7,267.3 443.9,265.4 444.2,265.8 444.4,263.5 444.6,262.8 444.9,262.1 445.1,260.0 445.3,258.1 445.5,256.9 445.8,256.6 446.0,255.3 446.1,254.7 446.1,252.9 446.2,251.9 446.3,249.7 446.3,248.8 446.4,247.5 446.5,247.1 446.5,246.1 446.6,244.8 446.7,243.1 446.7,241.6 446.8,239.5 447.0,238.4 447.1,238.4 447.3,236.3 447.5,234.6 447.6,233.3 447.8,232.7 447.9,231.7 448.1,230.7 448.2,228.6 448.4,227.2 448.5,226.4 448.7,224.5 448.8,224.4 449.2,222.8 449.6,220.0 450.1,219.8 450.5,218.4 450.8,216.2 451.0,215.6 451.3,213.2 451.5,214.9 451.8,217.0 452.0,218.3 452.3,218.7 452.5,220.7 453.0,217.8 453.4,217.1 453.9,215.3 454.1,217.8 454.2,219.0 454.4,220.0 454.6,220.4 454.7,222.9 454.9,223.7 455.0,225.3 455.1,225.5 455.2,227.4 455.2,228.2 455.3,230.9 455.4,232.1 455.5,233.4 455.6,233.3 455.6,234.4 455.7,236.8 455.8,237.4 455.8,238.3 455.9,240.6 456.0,241.7 456.0,241.9 456.1,243.5 456.2,244.6 456.2,246.1 456.3,247.5 456.4,248.2 456.4,250.3 456.5,251.1 456.6,252.5 456.6,253.9 456.7,254.4 456.9,256.7 457.2,258.5 457.4,258.7 457.6,260.7 457.9,262.0 458.1,262.9 458.3,264.0 458.6,264.8 458.8,267.5 459.0,268.0 459.3,269.1 459.5,269.9 459.8,271.4 460.0,273.6 460.3,274.5 460.5,275.7 460.8,277.4 461.0,278.3 461.3,279.9 461.7,281.1 462.1,282.1 462.4,282.6 462.8,284.6 464.6,285.5 465.6,286.6 466.6,287.1 467.6,287.7 468.8,288.1 470.1,288.1 471.3,288.2 472.6,288.1 473.8,288.4 475.0,288.6 476.3,288.6 477.5,288.2 478.8,288.4 480.0,288.8 481.2,288.4 482.4,288.4 483.6,288.7 484.8,288.8 486.0,288.5 487.2,288.7 488.5,288.4 489.7,288.6 490.9,288.5 492.1,288.5 493.3,288.3 494.5,288.7 495.7,288.5 496.9,288.5 498.1,288.7 499.3,288.8 500.5,288.6 501.8,288.6 503.0,288.7 504.2,288.7 505.4,288.6 506.6,288.7 507.8,288.6 509.0,288.7" fill="none" stroke="#000" stroke-width="1.8" stroke-linejoin="round"/>
<line x1="415.2" y1="195.5" x2="415.2" y2="291.5" stroke="#000" stroke-width="1.1"/>
<line x1="415.2" y1="290.3" x2="509.0" y2="290.3" stroke="#777" stroke-width="0.8"/>
<path d="M412.90 289.70H415.2M413.30 286.58H415.2M413.30 283.45H415.2M413.30 280.33H415.2M413.30 277.21H415.2M412.90 274.08H415.2M413.30 270.96H415.2M413.30 267.84H415.2M413.30 264.71H415.2M413.30 261.59H415.2M412.90 258.47H415.2M413.30 255.34H415.2M413.30 252.22H415.2M413.30 249.10H415.2M413.30 245.97H415.2M412.90 242.85H415.2M413.30 239.73H415.2M413.30 236.60H415.2M413.30 233.48H415.2M413.30 230.36H415.2M412.90 227.23H415.2M413.30 224.11H415.2M413.30 220.99H415.2M413.30 217.86H415.2M413.30 214.74H415.2M412.90 211.62H415.2M413.30 208.49H415.2M413.30 205.37H415.2M413.30 202.25H415.2M413.30 199.12H415.2M412.90 196.00H415.2" stroke="#000" stroke-width="0.75" fill="none"/>
<text transform="translate(409.4,289.7) rotate(-90)" font-size="5.6" font-weight="400" text-anchor="middle" fill="#000" stroke="#000" stroke-width="0.15">0</text>
<text transform="translate(409.4,274.08) rotate(-90)" font-size="5.6" font-weight="400" text-anchor="middle" fill="#000" stroke="#000" stroke-width="0.15">20</text>
<text transform="translate(409.4,258.47) rotate(-90)" font-size="5.6" font-weight="400" text-anchor="middle" fill="#000" stroke="#000" stroke-width="0.15">40</text>
<text transform="translate(409.4,242.85) rotate(-90)" font-size="5.6" font-weight="400" text-anchor="middle" fill="#000" stroke="#000" stroke-width="0.15">60</text>
<text transform="translate(409.4,227.23) rotate(-90)" font-size="5.6" font-weight="400" text-anchor="middle" fill="#000" stroke="#000" stroke-width="0.15">80</text>
<text transform="translate(409.4,211.62) rotate(-90)" font-size="5.6" font-weight="400" text-anchor="middle" fill="#000" stroke="#000" stroke-width="0.15">100</text>
<text transform="translate(409.4,196.0) rotate(-90)" font-size="5.6" font-weight="400" text-anchor="middle" fill="#000" stroke="#000" stroke-width="0.15">120</text>
<text transform="translate(395.6,243.8) rotate(-90)" font-size="6.7" font-weight="400" text-anchor="middle" fill="#000">Relative number of cells</text>
<path d="M415.20 289.7V291.5M422.26 289.7V290.8M426.39 289.7V290.8M429.32 289.7V290.8M431.59 289.7V290.8M433.45 289.7V290.8M435.02 289.7V290.8M436.38 289.7V290.8M437.58 289.7V290.8M438.65 289.7V291.5M445.71 289.7V290.8M449.84 289.7V290.8M452.77 289.7V290.8M455.04 289.7V290.8M456.90 289.7V290.8M458.47 289.7V290.8M459.83 289.7V290.8M461.03 289.7V290.8M462.10 289.7V291.5M469.16 289.7V290.8M473.29 289.7V290.8M476.22 289.7V290.8M478.49 289.7V290.8M480.35 289.7V290.8M481.92 289.7V290.8M483.28 289.7V290.8M484.48 289.7V290.8M485.55 289.7V291.5M492.61 289.7V290.8M496.74 289.7V290.8M499.67 289.7V290.8M501.94 289.7V290.8M503.80 289.7V290.8M505.37 289.7V290.8M506.73 289.7V290.8M507.93 289.7V290.8M509.0 289.7V291.5" stroke="#444" stroke-width="0.6" fill="none"/>
<text x="415.30" y="301.2" font-size="6.3" text-anchor="middle">10<tspan dx="0.5" dy="-3.6" font-size="5.1">0</tspan></text>
<text x="438.75" y="301.2" font-size="6.3" text-anchor="middle">10<tspan dx="0.5" dy="-3.6" font-size="5.1">1</tspan></text>
<text x="462.20" y="301.2" font-size="6.3" text-anchor="middle">10<tspan dx="0.5" dy="-3.6" font-size="5.1">2</tspan></text>
<text x="485.65" y="301.2" font-size="6.3" text-anchor="middle">10<tspan dx="0.5" dy="-3.6" font-size="5.1">3</tspan></text>
<text x="509.10" y="301.2" font-size="6.3" text-anchor="middle">10<tspan dx="0.5" dy="-3.6" font-size="5.1">4</tspan></text>
<text x="411" y="309.8" font-size="6.4" font-weight="400" text-anchor="start" fill="#000">Fluorescent intensity of anti-HLA-E</text>
<text x="414.4" y="317.9" font-size="6.4" font-weight="400" text-anchor="start" fill="#000">Ab + biotin-conjugated goat anti-</text>
<text x="415" y="326.2" font-size="6.4" font-weight="400" text-anchor="start" fill="#000">mouse IgG Ab + streptavidin-PE</text>
</svg></body></html>
